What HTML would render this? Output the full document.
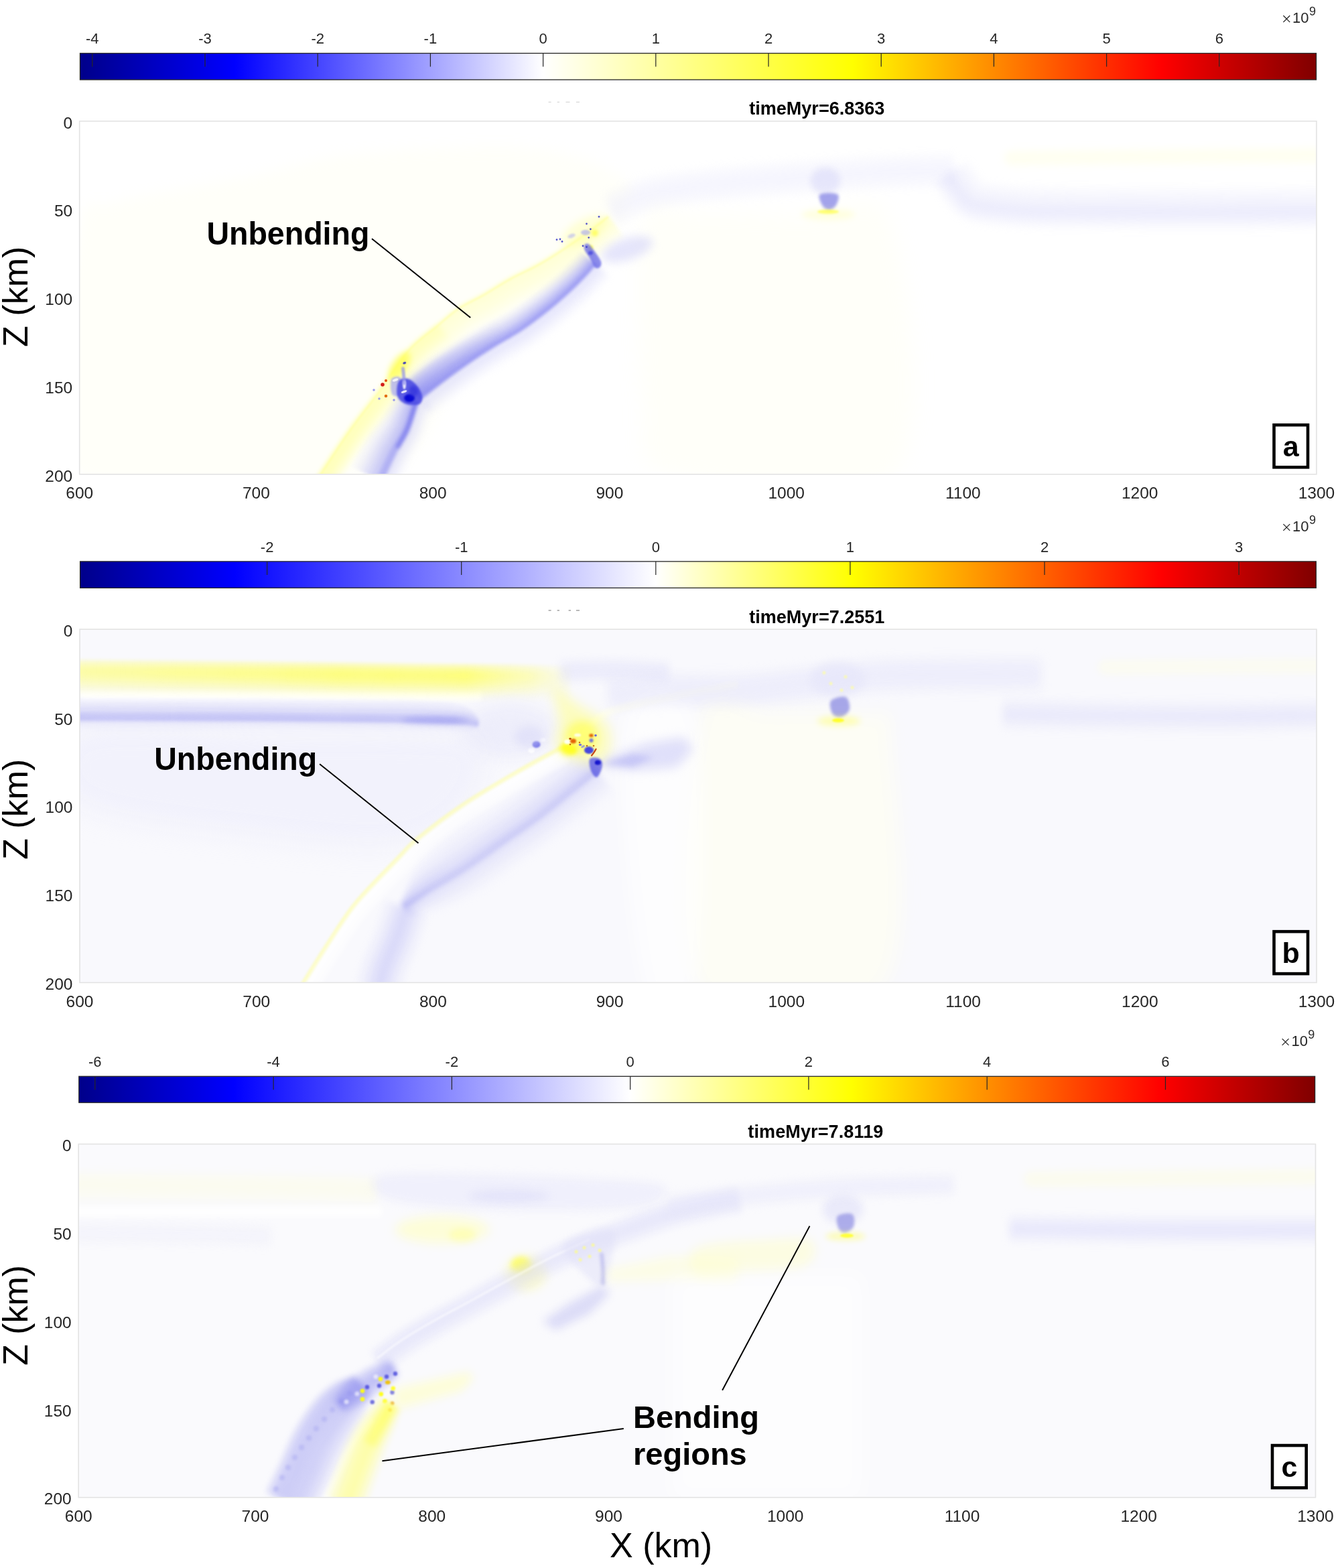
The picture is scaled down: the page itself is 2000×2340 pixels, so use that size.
<!DOCTYPE html>
<html><head><meta charset="utf-8"><title>figure</title>
<style>html,body{margin:0;padding:0;background:#fff;}body{width:2000px;height:2340px;overflow:hidden}svg{display:block}
text{font-family:"Liberation Sans", Arial, Helvetica, sans-serif}</style></head>
<body><svg width="2000" height="2340" viewBox="0 0 2000 2340">
<defs><linearGradient id="cm_a" gradientUnits="userSpaceOnUse" x1="119.5" y1="0" x2="1964.5" y2="0"><stop offset="0.0000" stop-color="#00008a"/><stop offset="0.1250" stop-color="#0000ff"/><stop offset="0.3746" stop-color="#ffffff"/><stop offset="0.6250" stop-color="#ffff00"/><stop offset="0.8750" stop-color="#ff0000"/><stop offset="1.0000" stop-color="#800000"/></linearGradient>
<clipPath id="clip_a"><rect x="118.7" y="180.8" width="1846.2" height="527"/></clipPath>
<linearGradient id="cm_b" gradientUnits="userSpaceOnUse" x1="119.6" y1="0" x2="1964.3" y2="0"><stop offset="0.0000" stop-color="#00008a"/><stop offset="0.1250" stop-color="#0000ff"/><stop offset="0.4658" stop-color="#ffffff"/><stop offset="0.6250" stop-color="#ffff00"/><stop offset="0.8750" stop-color="#ff0000"/><stop offset="1.0000" stop-color="#800000"/></linearGradient>
<clipPath id="clip_b"><rect x="119" y="939.1" width="1846" height="527.3"/></clipPath>
<linearGradient id="cm_c" gradientUnits="userSpaceOnUse" x1="117.8" y1="0" x2="1962.6" y2="0"><stop offset="0.0000" stop-color="#00008a"/><stop offset="0.1250" stop-color="#0000ff"/><stop offset="0.4461" stop-color="#ffffff"/><stop offset="0.6250" stop-color="#ffff00"/><stop offset="0.8750" stop-color="#ff0000"/><stop offset="1.0000" stop-color="#800000"/></linearGradient>
<clipPath id="clip_c"><rect x="117.2" y="1707.4" width="1846.3" height="527.3"/></clipPath>
<filter id="bl0_4" filterUnits="userSpaceOnUse" x="0" y="0" width="2000" height="2340" color-interpolation-filters="sRGB"><feGaussianBlur stdDeviation="0.4"/></filter>
<filter id="bl0_5" filterUnits="userSpaceOnUse" x="0" y="0" width="2000" height="2340" color-interpolation-filters="sRGB"><feGaussianBlur stdDeviation="0.5"/></filter>
<filter id="bl0_6" filterUnits="userSpaceOnUse" x="0" y="0" width="2000" height="2340" color-interpolation-filters="sRGB"><feGaussianBlur stdDeviation="0.6"/></filter>
<filter id="bl0_7" filterUnits="userSpaceOnUse" x="0" y="0" width="2000" height="2340" color-interpolation-filters="sRGB"><feGaussianBlur stdDeviation="0.7"/></filter>
<filter id="bl0_8" filterUnits="userSpaceOnUse" x="0" y="0" width="2000" height="2340" color-interpolation-filters="sRGB"><feGaussianBlur stdDeviation="0.8"/></filter>
<filter id="bl0_9" filterUnits="userSpaceOnUse" x="0" y="0" width="2000" height="2340" color-interpolation-filters="sRGB"><feGaussianBlur stdDeviation="0.9"/></filter>
<filter id="bl1" filterUnits="userSpaceOnUse" x="0" y="0" width="2000" height="2340" color-interpolation-filters="sRGB"><feGaussianBlur stdDeviation="1"/></filter>
<filter id="bl1_2" filterUnits="userSpaceOnUse" x="0" y="0" width="2000" height="2340" color-interpolation-filters="sRGB"><feGaussianBlur stdDeviation="1.2"/></filter>
<filter id="bl1_5" filterUnits="userSpaceOnUse" x="0" y="0" width="2000" height="2340" color-interpolation-filters="sRGB"><feGaussianBlur stdDeviation="1.5"/></filter>
<filter id="bl1_8" filterUnits="userSpaceOnUse" x="0" y="0" width="2000" height="2340" color-interpolation-filters="sRGB"><feGaussianBlur stdDeviation="1.8"/></filter>
<filter id="bl2" filterUnits="userSpaceOnUse" x="0" y="0" width="2000" height="2340" color-interpolation-filters="sRGB"><feGaussianBlur stdDeviation="2"/></filter>
<filter id="bl2_2" filterUnits="userSpaceOnUse" x="0" y="0" width="2000" height="2340" color-interpolation-filters="sRGB"><feGaussianBlur stdDeviation="2.2"/></filter>
<filter id="bl2_5" filterUnits="userSpaceOnUse" x="0" y="0" width="2000" height="2340" color-interpolation-filters="sRGB"><feGaussianBlur stdDeviation="2.5"/></filter>
<filter id="bl3" filterUnits="userSpaceOnUse" x="0" y="0" width="2000" height="2340" color-interpolation-filters="sRGB"><feGaussianBlur stdDeviation="3"/></filter>
<filter id="bl4" filterUnits="userSpaceOnUse" x="0" y="0" width="2000" height="2340" color-interpolation-filters="sRGB"><feGaussianBlur stdDeviation="4"/></filter>
<filter id="bl4_5" filterUnits="userSpaceOnUse" x="0" y="0" width="2000" height="2340" color-interpolation-filters="sRGB"><feGaussianBlur stdDeviation="4.5"/></filter>
<filter id="bl5" filterUnits="userSpaceOnUse" x="0" y="0" width="2000" height="2340" color-interpolation-filters="sRGB"><feGaussianBlur stdDeviation="5"/></filter>
<filter id="bl6" filterUnits="userSpaceOnUse" x="0" y="0" width="2000" height="2340" color-interpolation-filters="sRGB"><feGaussianBlur stdDeviation="6"/></filter>
<filter id="bl7" filterUnits="userSpaceOnUse" x="0" y="0" width="2000" height="2340" color-interpolation-filters="sRGB"><feGaussianBlur stdDeviation="7"/></filter>
<filter id="bl8" filterUnits="userSpaceOnUse" x="0" y="0" width="2000" height="2340" color-interpolation-filters="sRGB"><feGaussianBlur stdDeviation="8"/></filter>
<filter id="bl9" filterUnits="userSpaceOnUse" x="0" y="0" width="2000" height="2340" color-interpolation-filters="sRGB"><feGaussianBlur stdDeviation="9"/></filter>
<filter id="bl10" filterUnits="userSpaceOnUse" x="0" y="0" width="2000" height="2340" color-interpolation-filters="sRGB"><feGaussianBlur stdDeviation="10"/></filter>
<filter id="bl12" filterUnits="userSpaceOnUse" x="0" y="0" width="2000" height="2340" color-interpolation-filters="sRGB"><feGaussianBlur stdDeviation="12"/></filter>
<filter id="bl15" filterUnits="userSpaceOnUse" x="0" y="0" width="2000" height="2340" color-interpolation-filters="sRGB"><feGaussianBlur stdDeviation="15"/></filter>
<filter id="bl20" filterUnits="userSpaceOnUse" x="0" y="0" width="2000" height="2340" color-interpolation-filters="sRGB"><feGaussianBlur stdDeviation="20"/></filter>
<linearGradient id="g1" gradientUnits="userSpaceOnUse" x1="630" y1="590" x2="760" y2="505"><stop offset="0" stop-color="#5050ec" stop-opacity="0.45"/><stop offset="1" stop-color="#5050ec" stop-opacity="0"/></linearGradient>
<linearGradient id="g2" gradientUnits="userSpaceOnUse" x1="119" y1="0" x2="870" y2="0"><stop offset="0" stop-color="#ffff60" stop-opacity="0.72"/><stop offset="0.5" stop-color="#ffff50" stop-opacity="0.95"/><stop offset="0.77" stop-color="#ffff50" stop-opacity="1"/><stop offset="0.9" stop-color="#ffff70" stop-opacity="0.6"/><stop offset="1" stop-color="#ffffa0" stop-opacity="0"/></linearGradient></defs>
<rect x="119.5" y="79.5" width="1845" height="39.5" fill="url(#cm_a)" stroke="#262626" stroke-width="1.3"/>
<line x1="137.8" y1="79.5" x2="137.8" y2="99.5" stroke="#262626" stroke-width="1.2"/>
<text x="137.8" y="65.4" font-size="22" text-anchor="middle" fill="#262626">-4</text>
<line x1="306" y1="79.5" x2="306" y2="99.5" stroke="#262626" stroke-width="1.2"/>
<text x="306" y="65.4" font-size="22" text-anchor="middle" fill="#262626">-3</text>
<line x1="474.2" y1="79.5" x2="474.2" y2="99.5" stroke="#262626" stroke-width="1.2"/>
<text x="474.2" y="65.4" font-size="22" text-anchor="middle" fill="#262626">-2</text>
<line x1="642.4" y1="79.5" x2="642.4" y2="99.5" stroke="#262626" stroke-width="1.2"/>
<text x="642.4" y="65.4" font-size="22" text-anchor="middle" fill="#262626">-1</text>
<line x1="810.6" y1="79.5" x2="810.6" y2="99.5" stroke="#262626" stroke-width="1.2"/>
<text x="810.6" y="65.4" font-size="22" text-anchor="middle" fill="#262626">0</text>
<line x1="978.8" y1="79.5" x2="978.8" y2="99.5" stroke="#262626" stroke-width="1.2"/>
<text x="978.8" y="65.4" font-size="22" text-anchor="middle" fill="#262626">1</text>
<line x1="1147" y1="79.5" x2="1147" y2="99.5" stroke="#262626" stroke-width="1.2"/>
<text x="1147" y="65.4" font-size="22" text-anchor="middle" fill="#262626">2</text>
<line x1="1315.2" y1="79.5" x2="1315.2" y2="99.5" stroke="#262626" stroke-width="1.2"/>
<text x="1315.2" y="65.4" font-size="22" text-anchor="middle" fill="#262626">3</text>
<line x1="1483.4" y1="79.5" x2="1483.4" y2="99.5" stroke="#262626" stroke-width="1.2"/>
<text x="1483.4" y="65.4" font-size="22" text-anchor="middle" fill="#262626">4</text>
<line x1="1651.6" y1="79.5" x2="1651.6" y2="99.5" stroke="#262626" stroke-width="1.2"/>
<text x="1651.6" y="65.4" font-size="22" text-anchor="middle" fill="#262626">5</text>
<line x1="1819.8" y1="79.5" x2="1819.8" y2="99.5" stroke="#262626" stroke-width="1.2"/>
<text x="1819.8" y="65.4" font-size="22" text-anchor="middle" fill="#262626">6</text>
<path d="M1915.4 23.3L1925.2 33.1M1925.2 23.3L1915.4 33.1" stroke="#262626" stroke-width="1.3" fill="none"/>
<text x="1953.6" y="33.9" font-size="22" fill="#262626" text-anchor="end">10</text>
<text x="1953.9" y="23.2" font-size="18" fill="#262626">9</text>
<g clip-path="url(#clip_a)">
<rect x="118.7" y="180.8" width="1846.2" height="527" fill="#ffffff"/>
<path d="M119 345 C127.5 277.7 143.2 314.8 170 304 C196.8 293.2 242.7 287.5 280 280 C317.3 272.5 357.3 266.7 394 259 C430.7 251.3 457.3 240.2 500 234 C542.7 227.8 600 224 650 222 C700 220 758.3 217.3 800 222 C841.7 226.7 876.7 238.7 900 250 C923.3 261.3 943.3 265 940 290 C936.7 315 920 358.3 880 400 C840 441.7 753.3 488.7 700 540 C646.7 591.3 656.8 680 560 708 C463.2 736 192.5 768.5 119 708 C45.5 647.5 110.5 412.3 119 345Z" fill="#ffffe0" fill-opacity="0.18" filter="url(#bl10)"/>
<path d="M960 330 C973.7 283 1002 319.3 1042 318 C1082 316.7 1152 320 1200 322 C1248 324 1307.5 265.7 1330 330 C1352.5 394.3 1390 645 1335 708 C1280 771 1062.5 726 1000 708 C937.5 690 966.7 663 960 600 C953.3 537 946.3 377 960 330Z" fill="#ffffe0" fill-opacity="0.2" filter="url(#bl15)"/>
<g filter="url(#bl6)"><path d="M906.9 293.7 C914.8 290.2 934.3 278.5 954.5 272.8 C974.8 267 996.2 263.3 1028.5 259.2 C1060.8 255 1103.4 251.6 1148.4 248.1 C1193.5 244.5 1253.8 240.4 1299 238 C1344.1 235.7 1399.3 234.7 1419.3 234" fill="none" stroke="#dcdcfa" stroke-width="10.2" stroke-opacity="0.15" stroke-linecap="round" stroke-linejoin="round"/><path d="M910.9 302.9 C918.7 299.4 937.5 288 957.3 282.4 C977.1 276.8 997.8 273.1 1029.7 269.1 C1061.7 265 1104.3 261.5 1149.2 258 C1194.2 254.5 1254.4 250.4 1299.5 248 C1344.6 245.7 1399.6 244.7 1419.7 244" fill="none" stroke="#dcdcfa" stroke-width="10.2" stroke-opacity="0.24" stroke-linecap="round" stroke-linejoin="round"/><path d="M915 312 C922.5 308.7 940.7 297.5 960 292 C979.3 286.5 999.3 283 1031 279 C1062.7 275 1105.2 271.5 1150 268 C1194.8 264.5 1255 260.3 1300 258 C1345 255.7 1400 254.7 1420 254" fill="none" stroke="#dcdcfa" stroke-width="10.2" stroke-opacity="0.28" stroke-linecap="round" stroke-linejoin="round"/><path d="M919.1 321.1 C926.3 317.9 943.9 307 962.7 301.6 C981.6 296.2 1000.9 292.9 1032.3 288.9 C1063.6 285 1106.1 281.5 1150.8 278 C1195.5 274.5 1255.6 270.3 1300.5 268 C1345.4 265.7 1400.4 264.7 1420.3 264" fill="none" stroke="#dcdcfa" stroke-width="10.2" stroke-opacity="0.24" stroke-linecap="round" stroke-linejoin="round"/><path d="M923.1 330.3 C930.2 327.1 947.1 316.5 965.5 311.2 C983.9 306 1002.5 302.7 1033.5 298.8 C1064.5 295 1107 291.4 1151.6 287.9 C1196.1 284.5 1256.2 280.3 1301 278 C1345.9 275.6 1400.7 274.7 1420.7 274" fill="none" stroke="#dcdcfa" stroke-width="10.2" stroke-opacity="0.15" stroke-linecap="round" stroke-linejoin="round"/></g>
<g filter="url(#bl6)"><path d="M1441.8 247.8 C1443.9 251.1 1451.1 263 1454.6 267.9 C1458 272.8 1451.1 274.4 1462.3 277.1 C1473.5 279.8 1498.8 282.6 1521.8 284.1 C1544.8 285.6 1553.9 285.5 1600.3 286 C1646.6 286.5 1737.6 287 1800 287 C1862.4 287 1945.7 286.2 1974.9 286" fill="none" stroke="#d4d4f8" stroke-width="12.2" stroke-opacity="0.15" stroke-linecap="round" stroke-linejoin="round"/><path d="M1430.9 254.9 C1433.2 258.5 1440.2 270.7 1444.8 276.4 C1449.4 282.2 1446 286.1 1458.7 289.5 C1471.4 293 1497.3 295.5 1520.9 297 C1544.5 298.6 1553.6 298.5 1600.1 299 C1646.7 299.5 1737.5 300 1800 300 C1862.5 300 1945.8 299.2 1974.9 299" fill="none" stroke="#d4d4f8" stroke-width="12.2" stroke-opacity="0.28" stroke-linecap="round" stroke-linejoin="round"/><path d="M1420 262 C1422.5 265.8 1429.2 278.3 1435 285 C1440.8 291.7 1440.8 297.8 1455 302 C1469.2 306.2 1495.8 308.3 1520 310 C1544.2 311.7 1553.3 311.5 1600 312 C1646.7 312.5 1737.5 313 1800 313 C1862.5 313 1945.8 312.2 1975 312" fill="none" stroke="#d4d4f8" stroke-width="12.2" stroke-opacity="0.42" stroke-linecap="round" stroke-linejoin="round"/><path d="M1410.8 268 C1413.4 272 1419.9 284.8 1426.7 292.2 C1433.6 299.7 1436.5 307.8 1451.9 312.6 C1467.3 317.3 1494.6 319.2 1519.2 321 C1543.9 322.7 1553.1 322.5 1599.9 323 C1646.7 323.5 1737.5 324 1800 324 C1862.5 324 1945.9 323.2 1975.1 323" fill="none" stroke="#d4d4f8" stroke-width="12.2" stroke-opacity="0.34" stroke-linecap="round" stroke-linejoin="round"/><path d="M1401.6 274 C1404.4 278.3 1410.6 291.3 1418.4 299.5 C1426.3 307.7 1432.1 317.7 1448.8 323.1 C1465.5 328.5 1493.3 330.1 1518.5 331.9 C1543.6 333.8 1552.8 333.5 1599.8 334 C1646.7 334.5 1737.4 335 1800 335 C1862.6 335 1945.9 334.2 1975.1 334" fill="none" stroke="#d4d4f8" stroke-width="12.2" stroke-opacity="0.16" stroke-linecap="round" stroke-linejoin="round"/></g>
<path d="M1510 236 C1541.7 235.7 1622.5 234.7 1700 234 C1777.5 233.3 1929.2 232.3 1975 232" fill="none" stroke="#ffffc8" stroke-width="22" stroke-opacity="0.25" stroke-linecap="round" stroke-linejoin="round" filter="url(#bl6)"/>
<g filter="url(#bl2_5)"><path d="M471.2 716.8 C479.5 704.3 505.8 663.9 521.3 641.9 C536.9 620 550 604.9 564.5 585.1 C579.1 565.4 594 539.8 608.5 523.3 C623 506.9 638.7 497.1 651.3 486.5 C663.9 475.9 672.5 467.5 684.1 459.7 C695.7 451.9 708.2 447.1 721 439.7 C733.8 432.4 747.6 423.1 761 415.8 C774.3 408.4 789.3 402.1 801 395.8 C812.6 389.4 818.6 385.9 831.1 377.7 C843.6 369.5 863.6 355.6 876.2 346.6 C888.7 337.6 901.2 327.4 906.2 323.6" fill="none" stroke="#ffffbc" stroke-width="5" stroke-opacity="0.62" stroke-linecap="round" stroke-linejoin="round"/><path d="M474.2 718.8 C482.6 706.4 508.9 666 524.6 644.2 C540.3 622.4 553.8 607.5 568.4 587.9 C583 568.3 597.9 542.9 612.3 526.6 C626.6 510.4 642.1 500.8 654.5 490.4 C666.9 479.9 675.4 471.5 686.9 463.8 C698.4 456.1 710.7 451.4 723.5 444.1 C736.2 436.8 750.1 427.5 763.4 420.1 C776.7 412.8 791.6 406.5 803.3 400.2 C815.1 393.8 821.2 390.1 833.8 381.9 C846.5 373.6 866.5 359.7 879.1 350.7 C891.7 341.6 904.2 331.4 909.3 327.6" fill="none" stroke="#ffffbc" stroke-width="5" stroke-opacity="0.57" stroke-linecap="round" stroke-linejoin="round"/><path d="M477.2 720.8 C485.6 708.4 512 668.2 527.8 646.5 C543.7 624.9 557.5 610.2 572.2 590.7 C586.9 571.3 601.8 546 616 529.9 C630.3 513.8 645.5 504.5 657.7 494.2 C670 483.9 678.3 475.6 689.7 468 C701.1 460.3 713.3 455.7 726 448.4 C738.6 441.2 752.5 431.8 765.8 424.5 C779.1 417.2 793.9 411 805.7 404.5 C817.5 398.1 823.8 394.3 836.6 386 C849.3 377.7 869.4 363.8 882 354.7 C894.6 345.7 907.3 335.4 912.3 331.5" fill="none" stroke="#ffffbc" stroke-width="5" stroke-opacity="0.52" stroke-linecap="round" stroke-linejoin="round"/><path d="M480.2 722.8 C488.7 710.5 515.1 670.4 531.1 648.8 C547.1 627.3 561.3 612.8 576 593.5 C590.8 574.3 605.6 549.1 619.8 533.2 C633.9 517.3 648.8 508.2 661 498 C673.1 487.8 681.2 479.7 692.5 472.1 C703.7 464.6 715.8 460 728.4 452.8 C741.1 445.6 754.9 436.2 768.2 428.9 C781.5 421.6 796.3 415.4 808.1 408.9 C820 402.5 826.5 398.6 839.3 390.2 C852.1 381.9 872.3 367.9 884.9 358.8 C897.6 349.7 910.3 339.4 915.3 335.5" fill="none" stroke="#ffffbc" stroke-width="5" stroke-opacity="0.47" stroke-linecap="round" stroke-linejoin="round"/><path d="M483.2 724.8 C491.7 712.5 518.3 672.5 534.4 651.1 C550.5 629.7 565 615.4 579.9 596.3 C594.7 577.2 609.5 552.3 623.5 536.5 C637.6 520.8 652.2 511.9 664.2 501.8 C676.1 491.8 684.1 483.7 695.3 476.3 C706.4 468.8 718.4 464.3 730.9 457.1 C743.5 449.9 757.3 440.6 770.6 433.3 C783.9 426 798.6 419.8 810.5 413.3 C822.4 406.9 829.1 402.8 842 394.4 C854.9 386 875.1 372 887.9 362.9 C900.6 353.7 913.3 343.4 918.4 339.5" fill="none" stroke="#ffffbc" stroke-width="5" stroke-opacity="0.42" stroke-linecap="round" stroke-linejoin="round"/><path d="M486.2 726.8 C494.8 714.6 521.4 674.7 537.7 653.4 C553.9 632.2 568.8 618.1 583.7 599.1 C598.6 580.2 613.3 555.4 627.3 539.8 C641.2 524.2 655.6 515.6 667.4 505.7 C679.2 495.8 687.1 487.8 698.1 480.4 C709.1 473 720.9 468.6 733.4 461.4 C745.9 454.3 759.8 444.9 773 437.7 C786.3 430.4 800.9 424.2 812.9 417.7 C824.8 411.2 831.8 407.1 844.8 398.6 C857.8 390.1 878 376.1 890.8 366.9 C903.6 357.7 916.3 347.3 921.4 343.4" fill="none" stroke="#ffffbc" stroke-width="5" stroke-opacity="0.35" stroke-linecap="round" stroke-linejoin="round"/><path d="M489.2 728.8 C497.8 716.6 524.5 676.9 540.9 655.7 C557.3 634.6 572.5 620.7 587.5 601.9 C602.6 583.2 617.2 558.5 631 543.1 C644.9 527.7 659 519.2 670.6 509.5 C682.2 499.7 690 491.8 700.8 484.6 C711.7 477.3 723.4 472.9 735.9 465.8 C748.3 458.7 762.2 449.3 775.4 442 C788.7 434.8 803.3 428.7 815.3 422.1 C827.3 415.6 834.4 411.3 847.5 402.8 C860.6 394.3 880.9 380.2 893.7 371 C906.5 361.7 919.3 351.3 924.5 347.4" fill="none" stroke="#ffffbc" stroke-width="5" stroke-opacity="0.26" stroke-linecap="round" stroke-linejoin="round"/><path d="M492.2 730.8 C500.8 718.7 527.7 679.1 544.2 658 C560.7 637 576.3 623.3 591.4 604.7 C606.5 586.1 621.1 561.7 634.8 546.4 C648.5 531.2 662.4 522.9 673.8 513.3 C685.3 503.7 692.9 495.9 703.6 488.7 C714.4 481.5 726 477.2 738.4 470.1 C750.7 463.1 764.6 453.7 777.8 446.4 C791 439.2 805.6 433.1 817.7 426.5 C829.7 419.9 837.1 415.6 850.2 407 C863.4 398.4 883.7 384.3 896.6 375 C909.5 365.8 922.4 355.3 927.5 351.4" fill="none" stroke="#ffffbc" stroke-width="5" stroke-opacity="0.16" stroke-linecap="round" stroke-linejoin="round"/><path d="M495.2 732.8 C503.9 720.7 530.8 681.2 547.5 660.4 C564.1 639.5 580 626 595.2 607.5 C610.4 589.1 624.9 564.8 638.5 549.7 C652.2 534.7 665.7 526.6 677.1 517.1 C688.4 507.7 695.8 500 706.4 492.9 C717 485.8 728.5 481.5 740.8 474.5 C753.1 467.5 767 458.1 780.2 450.8 C793.4 443.5 807.9 437.5 820 430.9 C832.2 424.3 839.7 419.8 853 411.2 C866.2 402.5 886.6 388.4 899.5 379.1 C912.5 369.8 925.4 359.3 930.6 355.3" fill="none" stroke="#ffffbc" stroke-width="5" stroke-opacity="0.06" stroke-linecap="round" stroke-linejoin="round"/></g>
<g filter="url(#bl4)"><path d="M474.2 718.8 C482.5 706.3 508.6 665.9 524.1 643.9 C539.6 621.9 552.6 606.7 567 587 C581.5 567.2 596.4 541.7 610.8 525.3 C625.1 508.9 646.2 494.9 653.3 488.8" fill="none" stroke="#ffff80" stroke-width="7.1" stroke-opacity="0.3" stroke-linecap="round" stroke-linejoin="round"/><path d="M480 722.7 C488.3 710.2 514.4 669.8 529.8 647.9 C545.3 626 558.3 610.7 572.7 591.1 C587.1 571.4 601.8 546.1 616 529.9 C630.2 513.8 650.9 500.1 657.8 494.1" fill="none" stroke="#ffff80" stroke-width="7.1" stroke-opacity="0.25" stroke-linecap="round" stroke-linejoin="round"/><path d="M485.8 726.5 C494.1 714.1 520.1 673.8 535.5 651.9 C551 630.1 564 614.8 578.3 595.2 C592.6 575.6 607.3 550.5 621.3 534.5 C635.3 518.6 655.5 505.3 662.4 499.4" fill="none" stroke="#ffff80" stroke-width="7.1" stroke-opacity="0.2" stroke-linecap="round" stroke-linejoin="round"/><path d="M491.6 730.4 C499.9 718 525.9 677.8 541.3 656 C556.6 634.1 569.8 618.8 584 599.3 C598.2 579.9 612.7 554.9 626.5 539.2 C640.4 523.4 660.2 510.5 667 504.7" fill="none" stroke="#ffff80" stroke-width="7.1" stroke-opacity="0.08" stroke-linecap="round" stroke-linejoin="round"/></g>
<g filter="url(#bl1_2)"><path d="M472.5 717.7 C480.8 705.2 507 664.7 522.5 642.7 C537.9 620.7 551 605.6 565.4 585.8 C579.9 566 594.8 540.4 609.3 524 C623.7 507.6 639.4 497.9 651.9 487.3 C664.5 476.7 673.1 468.3 684.7 460.5 C696.3 452.7 708.7 447.9 721.5 440.6 C734.3 433.3 748.1 424 761.4 416.6 C774.8 409.3 789.7 403 801.4 396.6 C813.1 390.3 819.1 386.7 831.6 378.5 C844.2 370.3 864.2 356.5 876.8 347.4 C889.3 338.4 901.8 328.2 906.8 324.4" fill="none" stroke="#ffff90" stroke-width="3" stroke-opacity="0.4" stroke-linecap="round" stroke-linejoin="round"/></g>
<g filter="url(#bl2)"><path d="M603.4 564.4 C609.5 559.7 627.4 544.8 640 536 C652.6 527.2 665.6 519.8 679.2 511.6 C692.9 503.5 708.2 494.9 722 487.2 C735.8 479.5 749 473.7 762.1 465.5 C775.2 457.3 789 446.9 800.7 438 C812.3 429.1 823.2 419.9 831.9 412.3 C840.6 404.6 847.3 398 853.1 392.2 C858.9 386.4 864.6 380 866.9 377.6" fill="none" stroke="#8080f0" stroke-width="4.3" stroke-opacity="0.05" stroke-linecap="round" stroke-linejoin="round"/><path d="M606.5 568.4 C612.6 563.6 630.4 548.8 643 540 C655.6 531.2 668.3 523.6 681.8 515.4 C695.4 507.2 710.5 498.5 724.2 490.8 C738 483 751.2 477.1 764.3 468.8 C777.5 460.5 791.4 450 803.1 441 C814.8 432 825.6 422.7 834.4 415 C843.2 407.3 849.8 400.5 855.7 394.7 C861.6 388.8 867.3 382.3 869.6 379.9" fill="none" stroke="#8080f0" stroke-width="4.3" stroke-opacity="0.1" stroke-linecap="round" stroke-linejoin="round"/><path d="M609.6 572.3 C615.7 567.6 633.5 552.8 646 544 C658.5 535.2 671 527.5 684.4 519.2 C697.8 511 712.8 502.2 726.5 494.4 C740.2 486.5 753.4 480.5 766.6 472.1 C779.7 463.7 793.8 453.1 805.5 444 C817.2 434.9 828.1 425.5 836.9 417.7 C845.7 409.9 852.4 403.1 858.3 397.1 C864.2 391.2 869.9 384.7 872.2 382.2" fill="none" stroke="#8080f0" stroke-width="4.3" stroke-opacity="0.17" stroke-linecap="round" stroke-linejoin="round"/><path d="M612.7 576.3 C618.7 571.6 636.6 556.9 649 548 C661.4 539.1 673.7 531.4 687 523 C700.3 514.7 715.1 505.9 728.7 498 C742.4 490 755.6 483.9 768.8 475.4 C782 466.9 796.2 456.2 807.9 447 C819.7 437.8 830.6 428.3 839.4 420.4 C848.3 412.5 855 405.6 860.9 399.6 C866.8 393.6 872.5 387 874.8 384.5" fill="none" stroke="#8080f0" stroke-width="4.3" stroke-opacity="0.25" stroke-linecap="round" stroke-linejoin="round"/><path d="M615.7 580.2 C621.8 575.5 639.7 560.9 652 552 C664.3 543.1 676.4 535.2 689.6 526.8 C702.8 518.4 717.4 509.6 731 501.6 C744.6 493.6 757.8 487.3 771 478.7 C784.3 470.1 798.5 459.3 810.3 450 C822.2 440.7 833.1 431.1 841.9 423.1 C850.8 415.2 857.6 408.2 863.5 402.1 C869.5 396 875.1 389.3 877.5 386.8" fill="none" stroke="#8080f0" stroke-width="4.3" stroke-opacity="0.34" stroke-linecap="round" stroke-linejoin="round"/><path d="M618.8 584.2 C624.8 579.5 642.8 564.9 655 556 C667.2 547.1 679.2 539.1 692.2 530.6 C705.2 522.1 719.7 513.3 733.2 505.2 C746.8 497.1 760 490.8 773.3 482.1 C786.5 473.4 800.9 462.4 812.8 453 C824.6 443.6 835.6 433.9 844.5 425.9 C853.4 417.8 860.2 410.7 866.2 404.6 C872.1 398.4 877.8 391.7 880.1 389.1" fill="none" stroke="#8080f0" stroke-width="4.3" stroke-opacity="0.44" stroke-linecap="round" stroke-linejoin="round"/><path d="M621.9 588.1 C627.9 583.4 645.8 568.9 658 560 C670.2 551.1 681.9 542.9 694.8 534.4 C707.7 525.9 722 517 735.5 508.8 C748.9 500.6 762.2 494.2 775.5 485.4 C788.8 476.6 803.3 465.5 815.2 456 C827.1 446.5 838 436.7 847 428.6 C855.9 420.4 862.8 413.2 868.8 407 C874.7 400.9 880.4 394 882.7 391.4" fill="none" stroke="#8080f0" stroke-width="4.3" stroke-opacity="0.55" stroke-linecap="round" stroke-linejoin="round"/><path d="M624.9 592.1 C630.9 587.4 648.9 573 661 564 C673.1 555 684.6 546.8 697.4 538.2 C710.2 529.6 724.4 520.6 737.7 512.4 C751.1 504.1 764.5 497.6 777.8 488.7 C791.1 479.8 805.6 468.6 817.6 459 C829.5 449.4 840.5 439.5 849.5 431.3 C858.5 423 865.4 415.8 871.4 409.5 C877.4 403.3 883 396.3 885.4 393.7" fill="none" stroke="#8080f0" stroke-width="4.3" stroke-opacity="0.66" stroke-linecap="round" stroke-linejoin="round"/><path d="M627.4 595.2 C633.4 590.5 651.4 576.2 663.4 567.2 C675.4 558.2 686.8 549.9 699.5 541.2 C712.2 532.6 726.2 523.6 739.5 515.3 C752.9 507 766.2 500.3 779.6 491.3 C792.9 482.4 807.5 471 819.5 461.4 C831.5 451.8 842.5 441.8 851.5 433.5 C860.5 425.1 867.5 417.8 873.5 411.5 C879.5 405.2 885.1 398.2 887.5 395.5" fill="none" stroke="#8080f0" stroke-width="4.3" stroke-opacity="0.72" stroke-linecap="round" stroke-linejoin="round"/></g>
<g filter="url(#bl3)"><path d="M609.6 572.3 C615.7 567.6 633.5 552.8 646 544 C658.5 535.2 671 527.5 684.4 519.2 C697.8 511 712.8 502.2 726.5 494.4 C740.2 486.5 753.3 480.6 766.6 472.1 C779.8 463.6 799.5 448.3 806.1 443.5" fill="none" stroke="url(#g1)" stroke-width="7.5" stroke-opacity="0.5" stroke-linecap="round" stroke-linejoin="round"/><path d="M614.5 578.6 C620.5 573.9 638.5 559.3 650.8 550.4 C663.1 541.5 675.4 533.7 688.6 525.3 C701.8 516.9 716.5 508.1 730.1 500.1 C743.7 492.2 756.9 486 770.2 477.4 C783.4 468.8 803.2 453.3 809.8 448.4" fill="none" stroke="url(#g1)" stroke-width="7.5" stroke-opacity="0.7" stroke-linecap="round" stroke-linejoin="round"/><path d="M619.4 584.9 C625.4 580.3 643.4 565.7 655.6 556.8 C667.8 547.9 679.7 539.9 692.7 531.4 C705.7 522.9 720.2 514 733.7 505.9 C747.2 497.8 760.4 491.5 773.7 482.7 C787 474 806.9 458.3 813.5 453.4" fill="none" stroke="url(#g1)" stroke-width="7.5" stroke-opacity="0.8" stroke-linecap="round" stroke-linejoin="round"/><path d="M624.3 591.3 C630.3 586.6 648.3 572.2 660.4 563.2 C672.5 554.2 684.1 546 696.9 537.4 C709.7 528.9 723.9 519.9 737.3 511.7 C750.7 503.4 764 496.9 777.3 488 C790.6 479.1 810.6 463.3 817.2 458.3" fill="none" stroke="url(#g1)" stroke-width="7.5" stroke-opacity="0.8" stroke-linecap="round" stroke-linejoin="round"/></g>
<g filter="url(#bl4)"><path d="M629.8 598.4 C635.8 593.7 653.8 579.4 665.8 570.4 C677.8 561.4 689.1 553.1 701.7 544.5 C714.3 535.8 728.3 526.9 741.6 518.5 C754.9 510.2 768.3 503.5 781.7 494.5 C795.1 485.5 809.8 474.1 821.9 464.3 C833.9 454.6 845 444.6 854 436.2 C863.1 427.8 870.1 420.4 876.2 414.1 C882.2 407.7 887.9 400.7 890.3 398" fill="none" stroke="#c4c4f8" stroke-width="6.1" stroke-opacity="0.45" stroke-linecap="round" stroke-linejoin="round"/><path d="M633.5 603.1 C639.5 598.5 657.5 584.1 669.4 575.2 C681.3 566.3 692.5 558 705.1 549.4 C717.6 540.8 731.4 532 744.8 523.6 C758.1 515.3 771.6 508.6 785 499.5 C798.5 490.4 813.5 478.8 825.6 469 C837.8 459.2 849 449.1 858.1 440.6 C867.3 432.1 874.4 424.6 880.5 418.2 C886.6 411.7 892.4 404.6 894.8 401.9" fill="none" stroke="#c4c4f8" stroke-width="6.1" stroke-opacity="0.35" stroke-linecap="round" stroke-linejoin="round"/><path d="M637.2 607.8 C643.2 603.2 661.1 588.9 673 580 C684.9 571.1 696 562.9 708.5 554.4 C721 545.8 734.6 537 747.9 528.7 C761.3 520.4 774.8 513.6 788.4 504.4 C802 495.3 817.1 483.6 829.4 473.7 C841.7 463.8 852.9 453.6 862.2 445 C871.4 436.4 878.7 428.8 884.9 422.3 C891.1 415.8 896.9 408.6 899.3 405.9" fill="none" stroke="#c4c4f8" stroke-width="6.1" stroke-opacity="0.25" stroke-linecap="round" stroke-linejoin="round"/><path d="M640.9 612.6 C646.8 607.9 664.8 593.7 676.6 584.8 C688.4 575.9 699.4 567.8 711.9 559.3 C724.3 550.8 737.8 542.1 751.1 533.8 C764.4 525.5 778.1 518.6 791.7 509.4 C805.4 500.2 820.8 488.4 833.2 478.4 C845.6 468.4 856.9 458.1 866.3 449.4 C875.6 440.8 883 433 889.2 426.4 C895.5 419.8 901.4 412.6 903.8 409.8" fill="none" stroke="#c4c4f8" stroke-width="6.1" stroke-opacity="0.15" stroke-linecap="round" stroke-linejoin="round"/><path d="M644.6 617.3 C650.5 612.7 668.4 598.4 680.2 589.6 C692 580.8 702.9 572.7 715.2 564.3 C727.6 555.8 741 547.2 754.3 538.9 C767.6 530.6 781.3 523.7 795.1 514.4 C808.9 505.1 824.4 493.1 836.9 483 C849.5 472.9 860.9 462.6 870.3 453.8 C879.8 445.1 887.3 437.2 893.6 430.6 C899.9 423.9 905.9 416.6 908.3 413.8" fill="none" stroke="#c4c4f8" stroke-width="6.1" stroke-opacity="0.06" stroke-linecap="round" stroke-linejoin="round"/></g>
<g filter="url(#bl2_5)"><path d="M528.3 696.1 C532 689.1 543.6 665.5 550.9 653.9 C558.1 642.3 564.7 636.9 571.7 626.3 C578.6 615.7 589.3 596.3 592.8 590.3" fill="none" stroke="#8888f0" stroke-width="5.4" stroke-opacity="0.05" stroke-linecap="round" stroke-linejoin="round"/><path d="M534 698.8 C537.7 691.8 549.1 668.4 556.2 656.6 C563.3 644.9 569.8 639.3 576.6 628.4 C583.4 617.6 593.4 597.7 596.8 591.6" fill="none" stroke="#8888f0" stroke-width="5.4" stroke-opacity="0.1" stroke-linecap="round" stroke-linejoin="round"/><path d="M539.7 701.6 C543.3 694.5 554.6 671.2 561.5 659.4 C568.5 647.6 575 641.6 581.6 630.6 C588.1 619.5 597.6 599.2 600.7 592.9" fill="none" stroke="#8888f0" stroke-width="5.4" stroke-opacity="0.18" stroke-linecap="round" stroke-linejoin="round"/><path d="M545.4 704.3 C548.9 697.2 560 674 566.9 662.1 C573.7 650.2 580.2 644 586.5 632.7 C592.8 621.4 601.7 600.7 604.7 594.2" fill="none" stroke="#8888f0" stroke-width="5.4" stroke-opacity="0.27" stroke-linecap="round" stroke-linejoin="round"/><path d="M551 707 C554.6 700 565.5 676.9 572.2 664.9 C578.9 652.8 585.4 646.4 591.5 634.9 C597.6 623.3 605.8 602.1 608.7 595.6" fill="none" stroke="#8888f0" stroke-width="5.4" stroke-opacity="0.36" stroke-linecap="round" stroke-linejoin="round"/><path d="M556.7 709.7 C560.2 702.7 570.9 679.7 577.5 667.6 C584.2 655.5 590.6 648.8 596.4 637 C602.3 625.2 610 603.6 612.7 596.9" fill="none" stroke="#8888f0" stroke-width="5.4" stroke-opacity="0.45" stroke-linecap="round" stroke-linejoin="round"/><path d="M562.4 712.4 C565.8 705.4 576.4 682.6 582.9 670.3 C589.4 658.1 595.8 651.2 601.4 639.1 C607 627.1 614.1 605 616.7 598.2" fill="none" stroke="#8888f0" stroke-width="5.4" stroke-opacity="0.55" stroke-linecap="round" stroke-linejoin="round"/><path d="M567.2 714.6 C570.5 707.6 580.9 684.9 587.3 672.6 C593.7 660.3 600.1 653.1 605.5 640.9 C611 628.7 617.6 606.3 620 599.3" fill="none" stroke="#8888f0" stroke-width="5.4" stroke-opacity="0.62" stroke-linecap="round" stroke-linejoin="round"/><path d="M570.9 716.5 C574.3 709.5 584.6 686.8 590.9 674.5 C597.2 662.1 603.5 654.7 608.8 642.4 C614.1 630 620.4 607.2 622.7 600.2" fill="none" stroke="#8888f0" stroke-width="5.4" stroke-opacity="0.6" stroke-linecap="round" stroke-linejoin="round"/></g>
<g filter="url(#bl4)"><path d="M574.5 718.1 C577.8 711.2 588.1 688.6 594.4 676.3 C600.8 663.9 607.2 656.4 612.6 644 C618 631.5 624.4 608.6 626.7 601.6" fill="none" stroke="#b8b8f6" stroke-width="6.1" stroke-opacity="0.4" stroke-linecap="round" stroke-linejoin="round"/><path d="M579.9 720.7 C583.2 713.8 593.4 691.4 599.8 679 C606.1 666.6 612.7 659 618.1 646.4 C623.5 633.8 630 610.6 632.4 603.5" fill="none" stroke="#b8b8f6" stroke-width="6.1" stroke-opacity="0.28" stroke-linecap="round" stroke-linejoin="round"/><path d="M585.3 723.3 C588.6 716.4 598.7 694.2 605.1 681.8 C611.5 669.3 618.1 661.5 623.6 648.7 C629.1 636 635.7 612.6 638.1 605.4" fill="none" stroke="#b8b8f6" stroke-width="6.1" stroke-opacity="0.16" stroke-linecap="round" stroke-linejoin="round"/><path d="M590.8 725.9 C594 719 604.1 697 610.5 684.5 C616.9 672 623.6 664 629.1 651.1 C634.7 638.3 641.4 614.6 643.8 607.3" fill="none" stroke="#b8b8f6" stroke-width="6.1" stroke-opacity="0.06" stroke-linecap="round" stroke-linejoin="round"/></g>
<path d="M620 604 C618 610 612.3 629.7 608 640 C603.7 650.3 596.3 661.7 594 666" fill="none" stroke="#4a4ae8" stroke-width="6" stroke-opacity="0.4" stroke-linecap="round" stroke-linejoin="round" filter="url(#bl2_5)"/>
<ellipse cx="596" cy="546" rx="11" ry="24" fill="#ffff30" fill-opacity="0.55" transform="rotate(35 596 546)" filter="url(#bl4)"/>
<path d="M584 566 C586 561.8 594.3 561 597 563 C599.7 565 600.2 573.5 600 578 C599.8 582.5 598.5 588.3 596 590 C593.5 591.7 587 592 585 588 C583 584 582 570.2 584 566Z" fill="#b0b0f0" fill-opacity="0.8" filter="url(#bl1_5)"/>
<path d="M595 569 C597.5 564.7 603.7 564.2 608 565 C612.3 565.8 617.3 569.8 621 574 C624.7 578.2 629.2 585.2 630 590 C630.8 594.8 630 600.8 626 603 C622 605.2 611.5 605 606 603 C600.5 601 594.8 596.7 593 591 C591.2 585.3 592.5 573.3 595 569Z" fill="#4848e2" fill-opacity="0.88" filter="url(#bl1_8)"/>
<ellipse cx="611" cy="594" rx="8" ry="6" fill="#0000d2" fill-opacity="0.9" filter="url(#bl1_5)"/>
<ellipse cx="617" cy="584" rx="7" ry="8" fill="#2a2ad8" fill-opacity="0.6" filter="url(#bl2)"/>
<ellipse cx="603.5" cy="574" rx="2.4" ry="7" fill="#ffffff" fill-opacity="0.9" filter="url(#bl0_8)"/>
<ellipse cx="603" cy="584.5" rx="4.5" ry="1.8" fill="#ffffff" fill-opacity="0.85" transform="rotate(-20 603 584.5)" filter="url(#bl0_7)"/>
<ellipse cx="590" cy="567" rx="4.5" ry="2" fill="#ffffff" fill-opacity="0.8" transform="rotate(-20 590 567)" filter="url(#bl0_7)"/>
<path d="M603 572 C602.9 570 602.8 563.7 602.5 560 C602.2 556.3 601.7 551.7 601.5 550" fill="none" stroke="#9090ec" stroke-width="5" stroke-opacity="0.7" stroke-linecap="round" stroke-linejoin="round" filter="url(#bl1_2)"/>
<ellipse cx="603.7" cy="541.7" rx="2.6" ry="1.7" fill="#3030c0" fill-opacity="0.9" transform="rotate(-20 603.7 541.7)" filter="url(#bl0_6)"/>
<ellipse cx="571" cy="574" rx="2.8" ry="2.8" fill="#d01010" fill-opacity="0.95" filter="url(#bl0_7)"/>
<ellipse cx="576" cy="568" rx="2" ry="2" fill="#e04000" fill-opacity="0.9" filter="url(#bl0_6)"/>
<ellipse cx="576" cy="591" rx="2.3" ry="2.3" fill="#e06000" fill-opacity="0.9" filter="url(#bl0_6)"/>
<ellipse cx="566" cy="595" rx="1.8" ry="1.8" fill="#8888ee" fill-opacity="0.8" filter="url(#bl0_6)"/><ellipse cx="588" cy="597" rx="1.8" ry="1.8" fill="#8888ee" fill-opacity="0.8" filter="url(#bl0_6)"/><ellipse cx="558" cy="582" rx="1.8" ry="1.8" fill="#8888ee" fill-opacity="0.8" filter="url(#bl0_6)"/>
<ellipse cx="872" cy="345" rx="38" ry="17" fill="#ffff80" fill-opacity="0.3" transform="rotate(-30 872 345)" filter="url(#bl6)"/>
<ellipse cx="887.8" cy="347.8" rx="5" ry="5" fill="#ffff40" fill-opacity="0.7" filter="url(#bl2)"/>
<ellipse cx="881.4" cy="369.5" rx="4" ry="4" fill="#ffff40" fill-opacity="0.7" filter="url(#bl1_5)"/>
<ellipse cx="874" cy="347" rx="7" ry="4" fill="#b0b0ee" fill-opacity="0.7" filter="url(#bl1_2)"/>
<ellipse cx="853" cy="352" rx="6" ry="3" fill="#b8b8f0" fill-opacity="0.6" transform="rotate(-20 853 352)" filter="url(#bl1_2)"/>
<path d="M872 366 C872.8 364.3 875.7 362.8 878 364 C880.3 365.2 882.8 368.7 886 373 C889.2 377.3 895.5 385.7 897 390 C898.5 394.3 896.5 397.5 895 399 C893.5 400.5 890.5 401.3 888 399 C885.5 396.7 882.5 389.2 880 385 C877.5 380.8 874.3 377.2 873 374 C871.7 370.8 871.2 367.7 872 366Z" fill="#6a6ae6" fill-opacity="0.8" filter="url(#bl1_5)"/>
<ellipse cx="881.4" cy="377.6" rx="3.5" ry="3" fill="#4040dc" fill-opacity="0.7" filter="url(#bl1)"/>
<ellipse cx="875.5" cy="334" rx="1.4" ry="1.4" fill="#3a3ac8" fill-opacity="0.85" filter="url(#bl0_5)"/><ellipse cx="881.4" cy="342" rx="1.4" ry="1.4" fill="#3a3ac8" fill-opacity="0.85" filter="url(#bl0_5)"/><ellipse cx="878.7" cy="354.6" rx="1.4" ry="1.4" fill="#3a3ac8" fill-opacity="0.85" filter="url(#bl0_5)"/><ellipse cx="875.5" cy="368.6" rx="1.4" ry="1.4" fill="#3a3ac8" fill-opacity="0.85" filter="url(#bl0_5)"/><ellipse cx="870" cy="367" rx="1.4" ry="1.4" fill="#3a3ac8" fill-opacity="0.85" filter="url(#bl0_5)"/><ellipse cx="894" cy="323.4" rx="1.4" ry="1.4" fill="#3a3ac8" fill-opacity="0.85" filter="url(#bl0_5)"/><ellipse cx="831" cy="357.7" rx="1.4" ry="1.4" fill="#3a3ac8" fill-opacity="0.85" filter="url(#bl0_5)"/><ellipse cx="836" cy="357" rx="1.4" ry="1.4" fill="#3a3ac8" fill-opacity="0.85" filter="url(#bl0_5)"/><ellipse cx="839" cy="360.5" rx="1.4" ry="1.4" fill="#3a3ac8" fill-opacity="0.85" filter="url(#bl0_5)"/>
<ellipse cx="936" cy="372" rx="40" ry="16" fill="#cfcff8" fill-opacity="0.55" transform="rotate(-18 936 372)" filter="url(#bl7)"/>
<ellipse cx="1232" cy="270" rx="22" ry="20" fill="#dadaf8" fill-opacity="0.6" filter="url(#bl5)"/>
<path d="M1224 290 C1227.8 287.3 1246 287.3 1250 290 C1254 292.7 1250.2 302 1248 306 C1245.8 310 1240.5 314 1237 314 C1233.5 314 1229.2 310 1227 306 C1224.8 302 1220.2 292.7 1224 290Z" fill="#8c8ce6" fill-opacity="0.8" filter="url(#bl2)"/>
<ellipse cx="1236" cy="316" rx="16" ry="3.2" fill="#ffff40" fill-opacity="0.8" filter="url(#bl1_5)"/>
<ellipse cx="1236" cy="320" rx="40" ry="8" fill="#ffffa0" fill-opacity="0.3" filter="url(#bl5)"/>
</g>
<rect x="118.7" y="180.8" width="1846.2" height="527" fill="none" stroke="#e3e3e3" stroke-width="1.6"/>
<rect x="1901.5" y="634.2" width="50.5" height="63.1" fill="#fff" stroke="#000" stroke-width="4.6"/>
<text x="1926.75" y="681.25" font-size="43" font-weight="bold" text-anchor="middle" fill="#000">a</text>
<text x="118.7" y="744" font-size="24.5" text-anchor="middle" fill="#262626">600</text>
<text x="382.44" y="744" font-size="24.5" text-anchor="middle" fill="#262626">700</text>
<text x="646.19" y="744" font-size="24.5" text-anchor="middle" fill="#262626">800</text>
<text x="909.93" y="744" font-size="24.5" text-anchor="middle" fill="#262626">900</text>
<text x="1173.67" y="744" font-size="24.5" text-anchor="middle" fill="#262626">1000</text>
<text x="1437.41" y="744" font-size="24.5" text-anchor="middle" fill="#262626">1100</text>
<text x="1701.16" y="744" font-size="24.5" text-anchor="middle" fill="#262626">1200</text>
<text x="1964.9" y="744" font-size="24.5" text-anchor="middle" fill="#262626">1300</text>
<text x="108.2" y="191.5" font-size="24.5" text-anchor="end" fill="#262626">0</text>
<text x="108.2" y="323.25" font-size="24.5" text-anchor="end" fill="#262626">50</text>
<text x="108.2" y="455" font-size="24.5" text-anchor="end" fill="#262626">100</text>
<text x="108.2" y="586.75" font-size="24.5" text-anchor="end" fill="#262626">150</text>
<text x="108.2" y="718.5" font-size="24.5" text-anchor="end" fill="#262626">200</text>
<text transform="translate(41,442.8) rotate(-90)" font-size="52" text-anchor="middle" fill="#000">Z (km)</text>
<text x="1118.3" y="171.4" font-size="27" font-weight="bold" fill="#000" textLength="202" lengthAdjust="spacing">timeMyr=6.8363</text>
<rect x="119.6" y="837.9" width="1844.7" height="39.5" fill="url(#cm_b)" stroke="#262626" stroke-width="1.3"/>
<line x1="398.6" y1="837.9" x2="398.6" y2="857.9" stroke="#262626" stroke-width="1.2"/>
<text x="398.6" y="824.4" font-size="22" text-anchor="middle" fill="#262626">-2</text>
<line x1="688.7" y1="837.9" x2="688.7" y2="857.9" stroke="#262626" stroke-width="1.2"/>
<text x="688.7" y="824.4" font-size="22" text-anchor="middle" fill="#262626">-1</text>
<line x1="978.8" y1="837.9" x2="978.8" y2="857.9" stroke="#262626" stroke-width="1.2"/>
<text x="978.8" y="824.4" font-size="22" text-anchor="middle" fill="#262626">0</text>
<line x1="1268.9" y1="837.9" x2="1268.9" y2="857.9" stroke="#262626" stroke-width="1.2"/>
<text x="1268.9" y="824.4" font-size="22" text-anchor="middle" fill="#262626">1</text>
<line x1="1559" y1="837.9" x2="1559" y2="857.9" stroke="#262626" stroke-width="1.2"/>
<text x="1559" y="824.4" font-size="22" text-anchor="middle" fill="#262626">2</text>
<line x1="1849.1" y1="837.9" x2="1849.1" y2="857.9" stroke="#262626" stroke-width="1.2"/>
<text x="1849.1" y="824.4" font-size="22" text-anchor="middle" fill="#262626">3</text>
<path d="M1915.4 782.1L1925.2 791.9M1925.2 782.1L1915.4 791.9" stroke="#262626" stroke-width="1.3" fill="none"/>
<text x="1953.6" y="792.7" font-size="22" fill="#262626" text-anchor="end">10</text>
<text x="1953.9" y="782" font-size="18" fill="#262626">9</text>
<g clip-path="url(#clip_b)">
<rect x="119" y="939.1" width="1846" height="527.3" fill="#f9f9fd"/>
<rect x="119" y="1030" width="600" height="16" fill="#ffffff" fill-opacity="0.9" filter="url(#bl3)"/>
<path d="M1045 1070 C1063.3 1002 1107.5 1062.7 1150 1062 C1192.5 1061.3 1270 1059.7 1300 1066 C1330 1072.3 1326.7 1032.7 1330 1100 C1333.3 1167.3 1368.3 1408.3 1320 1470 C1271.7 1531.7 1085.8 1536.7 1040 1470 C994.2 1403.3 1026.7 1138 1045 1070Z" fill="#fffff0" fill-opacity="0.6" filter="url(#bl12)"/>
<path d="M930 1080 C943.3 1013.3 1021.7 1005 1040 1070 C1058.3 1135 1053.3 1403.3 1040 1470 C1026.7 1536.7 978.3 1535 960 1470 C941.7 1405 916.7 1146.7 930 1080Z" fill="#ffffff" fill-opacity="0.6" filter="url(#bl12)"/>
<g filter="url(#bl2_5)"><path d="M100 987 C150 987.5 313.3 989 400 990 C486.6 991 560 992.3 620 993 C680 993.7 721.6 993.5 760 994 C798.3 994.5 835 995.7 850 996" fill="none" stroke="url(#g2)" stroke-width="5.2" stroke-opacity="0.35" stroke-linecap="round" stroke-linejoin="round"/><path d="M99.9 992 C149.9 992.5 313.3 994 399.9 995 C486.6 996 559.9 997.3 619.9 998 C679.9 998.7 721.6 998.5 759.9 999 C798.2 999.5 834.9 1000.7 849.8 1001" fill="none" stroke="url(#g2)" stroke-width="5.2" stroke-opacity="0.55" stroke-linecap="round" stroke-linejoin="round"/><path d="M99.9 997 C149.9 997.5 313.2 999 399.9 1000 C486.5 1001 559.9 1002.3 619.9 1003 C679.9 1003.7 721.5 1003.5 759.8 1004 C798.2 1004.5 834.8 1005.7 849.7 1006" fill="none" stroke="url(#g2)" stroke-width="5.2" stroke-opacity="0.7" stroke-linecap="round" stroke-linejoin="round"/><path d="M99.8 1002 C149.8 1002.5 313.1 1004 399.8 1005 C486.5 1006 559.8 1007.3 619.8 1008 C679.8 1008.7 721.5 1008.5 759.8 1009 C798.1 1009.5 834.6 1010.7 849.6 1011" fill="none" stroke="url(#g2)" stroke-width="5.2" stroke-opacity="0.75" stroke-linecap="round" stroke-linejoin="round"/><path d="M99.8 1007 C149.8 1007.5 313.1 1009 399.7 1010 C486.4 1011 559.8 1012.3 619.8 1013 C679.8 1013.7 721.4 1013.5 759.7 1014 C798 1014.5 834.5 1015.7 849.5 1016" fill="none" stroke="url(#g2)" stroke-width="5.2" stroke-opacity="0.7" stroke-linecap="round" stroke-linejoin="round"/><path d="M99.7 1012 C149.7 1012.5 313 1014 399.7 1015 C486.4 1016 559.7 1017.3 619.7 1018 C679.7 1018.7 721.4 1018.5 759.6 1019 C797.9 1019.5 834.4 1020.7 849.4 1021" fill="none" stroke="url(#g2)" stroke-width="5.2" stroke-opacity="0.62" stroke-linecap="round" stroke-linejoin="round"/><path d="M99.7 1017 C149.7 1017.5 313 1019 399.6 1020 C486.3 1021 559.7 1022.3 619.6 1023 C679.6 1023.7 721.3 1023.5 759.6 1024 C797.9 1024.5 834.3 1025.7 849.3 1026" fill="none" stroke="url(#g2)" stroke-width="5.2" stroke-opacity="0.5" stroke-linecap="round" stroke-linejoin="round"/><path d="M99.6 1022 C149.6 1022.5 312.9 1024 399.6 1025 C486.2 1026 559.6 1027.3 619.6 1028 C679.6 1028.7 721.3 1028.5 759.5 1029 C797.8 1029.5 834.2 1030.7 849.2 1031" fill="none" stroke="url(#g2)" stroke-width="5.2" stroke-opacity="0.38" stroke-linecap="round" stroke-linejoin="round"/><path d="M99.6 1027 C149.6 1027.5 312.9 1029 399.5 1030 C486.2 1031 559.5 1032.3 619.5 1033 C679.5 1033.7 721.2 1033.5 759.5 1034 C797.7 1034.5 834.1 1035.7 849.1 1036" fill="none" stroke="url(#g2)" stroke-width="5.2" stroke-opacity="0.25" stroke-linecap="round" stroke-linejoin="round"/><path d="M99.5 1032 C149.5 1032.5 312.8 1034 399.5 1035 C486.1 1036 559.5 1037.3 619.5 1038 C679.5 1038.7 721.1 1038.5 759.4 1039 C797.6 1039.5 834 1040.7 849 1041" fill="none" stroke="url(#g2)" stroke-width="5.2" stroke-opacity="0.13" stroke-linecap="round" stroke-linejoin="round"/><path d="M99.5 1037 C149.5 1037.5 312.7 1039 399.4 1040 C486.1 1041 559.4 1042.3 619.4 1043 C679.4 1043.7 721.1 1043.5 759.3 1044 C797.6 1044.5 833.9 1045.7 848.8 1046" fill="none" stroke="url(#g2)" stroke-width="5.2" stroke-opacity="0.05" stroke-linecap="round" stroke-linejoin="round"/></g>
<g filter="url(#bl2_2)"><path d="M100.1 1045 C150.1 1045.2 316.8 1045.5 400.2 1046 C483.6 1046.5 554.9 1047.1 600.4 1048 C645.9 1048.9 656.1 1049.3 673.1 1051.4 C690 1053.5 695.2 1056.8 702 1060.5 C708.7 1064.2 711.5 1071.5 713.4 1073.7" fill="none" stroke="#a0a0f2" stroke-width="4.9" stroke-opacity="0.1" stroke-linecap="round" stroke-linejoin="round"/><path d="M100.1 1051 C150.1 1051.2 316.8 1051.5 400.1 1052 C483.5 1052.5 554.9 1053.1 600.3 1054 C645.8 1054.9 656 1055.3 672.8 1057.1 C689.7 1058.9 694.8 1061.6 701.5 1064.7 C708.2 1067.7 711.2 1073.7 713.1 1075.5" fill="none" stroke="#a0a0f2" stroke-width="4.9" stroke-opacity="0.2" stroke-linecap="round" stroke-linejoin="round"/><path d="M100.1 1057 C150.1 1057.2 316.7 1057.5 400.1 1058 C483.5 1058.5 554.8 1059.2 600.2 1060 C645.7 1060.8 655.8 1061.3 672.6 1062.8 C689.4 1064.3 694.4 1066.4 701.1 1068.9 C707.8 1071.3 710.8 1075.9 712.8 1077.3" fill="none" stroke="#a0a0f2" stroke-width="4.9" stroke-opacity="0.32" stroke-linecap="round" stroke-linejoin="round"/><path d="M100 1063 C150 1063.2 316.7 1063.5 400.1 1064 C483.4 1064.5 554.8 1065.2 600.1 1066 C645.5 1066.8 655.6 1067.3 672.4 1068.5 C689.1 1069.7 694 1071.3 700.7 1073 C707.4 1074.8 710.5 1078 712.5 1079" fill="none" stroke="#a0a0f2" stroke-width="4.9" stroke-opacity="0.45" stroke-linecap="round" stroke-linejoin="round"/><path d="M100 1068 C150 1068.2 316.7 1068.5 400 1069 C483.4 1069.5 554.7 1070.3 600.1 1071 C645.4 1071.7 655.5 1072.3 672.2 1073.3 C688.9 1074.2 693.7 1075.3 700.3 1076.5 C707 1077.7 710.3 1079.9 712.2 1080.5" fill="none" stroke="#a0a0f2" stroke-width="4.9" stroke-opacity="0.58" stroke-linecap="round" stroke-linejoin="round"/><path d="M100 1073 C150 1073.2 316.7 1073.5 400 1074 C483.3 1074.5 554.7 1075.3 600 1076 C645.3 1076.7 655.3 1077.3 672 1078 C688.7 1078.7 693.3 1079.3 700 1080 C706.7 1080.7 710 1081.7 712 1082" fill="none" stroke="#a0a0f2" stroke-width="4.9" stroke-opacity="0.64" stroke-linecap="round" stroke-linejoin="round"/><path d="M100 1078 C150 1078.2 316.6 1078.5 400 1079 C483.3 1079.5 554.6 1080.4 599.9 1081 C645.2 1081.6 655.2 1082.3 671.8 1082.7 C688.4 1083.2 693 1083.4 699.7 1083.5 C706.3 1083.6 709.7 1083.5 711.8 1083.5" fill="none" stroke="#a0a0f2" stroke-width="4.9" stroke-opacity="0.22" stroke-linecap="round" stroke-linejoin="round"/><path d="M100 1084 C150 1084.2 316.6 1084.5 399.9 1085 C483.2 1085.5 554.6 1086.4 599.8 1087 C645.1 1087.6 655 1088.3 671.6 1088.4 C688.1 1088.6 692.6 1088.2 699.2 1087.7 C705.9 1087.1 709.4 1085.7 711.5 1085.3" fill="none" stroke="#a0a0f2" stroke-width="4.9" stroke-opacity="0.09" stroke-linecap="round" stroke-linejoin="round"/><path d="M99.9 1090 C149.9 1090.2 316.6 1090.5 399.9 1091 C483.2 1091.5 554.5 1092.5 599.8 1093 C645 1093.5 654.8 1094.3 671.4 1094.1 C687.9 1093.9 692.2 1093 698.8 1091.8 C705.5 1090.7 709.1 1087.8 711.2 1087" fill="none" stroke="#a0a0f2" stroke-width="4.9" stroke-opacity="0.03" stroke-linecap="round" stroke-linejoin="round"/></g>
<ellipse cx="652" cy="1075" rx="52" ry="6" fill="#7070ea" fill-opacity="0.3" filter="url(#bl4)"/>
<ellipse cx="760" cy="1090" rx="70" ry="40" fill="#e4e4fa" fill-opacity="0.5" filter="url(#bl12)"/>
<path d="M119 1090 C165.8 1072 313.2 1091.2 400 1092 C486.8 1092.8 586.7 1092 640 1095 C693.3 1098 710 1092.5 720 1110 C730 1127.5 720 1175 700 1200 C680 1225 650 1251.7 600 1260 C550 1268.3 480.2 1260 400 1250 C319.8 1240 165.8 1226.7 119 1200 C72.2 1173.3 72.2 1108 119 1090Z" fill="#e8e8fa" fill-opacity="0.45" filter="url(#bl20)"/>
<g filter="url(#bl3)"><path d="M598.6 1344.9 C602 1337.2 608.8 1313.2 619.3 1298.7 C629.8 1284.3 644.6 1271.8 661.6 1258.2 C678.6 1244.5 702.2 1230.3 721.5 1216.9 C740.7 1203.6 758.9 1190.9 777.1 1177.9 C795.3 1164.9 816.2 1148.5 830.5 1138.8 C844.7 1129.1 857.2 1122.9 862.6 1119.7" fill="none" stroke="#b4b4f4" stroke-width="6.5" stroke-opacity="0.04" stroke-linecap="round" stroke-linejoin="round"/><path d="M599.8 1346.5 C603.6 1339.4 611.6 1317.4 622.6 1303.7 C633.6 1290.1 648.8 1278.2 666 1264.9 C683.2 1251.5 706.7 1236.9 726 1223.5 C745.3 1210.1 763.7 1197.5 781.9 1184.3 C800.1 1171.2 821.1 1154.6 835.2 1144.7 C849.4 1134.8 861.5 1128.3 866.8 1125" fill="none" stroke="#b4b4f4" stroke-width="6.5" stroke-opacity="0.1" stroke-linecap="round" stroke-linejoin="round"/><path d="M601 1348.2 C605.1 1341.6 614.3 1321.5 625.9 1308.7 C637.5 1296 652.9 1284.7 670.4 1271.6 C687.8 1258.4 711.2 1243.5 730.6 1230.1 C750 1216.6 768.5 1204 786.7 1190.7 C804.9 1177.5 825.9 1160.8 839.9 1150.7 C854 1140.6 865.9 1133.7 871 1130.4" fill="none" stroke="#b4b4f4" stroke-width="6.5" stroke-opacity="0.18" stroke-linecap="round" stroke-linejoin="round"/><path d="M602.1 1349.8 C606.7 1343.8 617.1 1325.7 629.2 1313.7 C641.3 1301.8 657.1 1291.1 674.8 1278.2 C692.4 1265.4 715.7 1250.2 735.2 1236.6 C754.6 1223.1 773.2 1210.5 791.5 1197.2 C809.7 1183.8 830.7 1166.9 844.7 1156.6 C858.6 1146.4 870.2 1139.2 875.3 1135.7" fill="none" stroke="#b4b4f4" stroke-width="6.5" stroke-opacity="0.28" stroke-linecap="round" stroke-linejoin="round"/><path d="M603.3 1351.4 C608.2 1345.9 619.9 1329.8 632.5 1318.7 C645.2 1307.7 661.3 1297.5 679.1 1284.9 C697 1272.4 720.2 1256.8 739.7 1243.2 C759.2 1229.7 778 1217 796.2 1203.6 C814.5 1190.1 835.5 1173 849.4 1162.6 C863.3 1152.2 874.5 1144.6 879.5 1141" fill="none" stroke="#b4b4f4" stroke-width="6.5" stroke-opacity="0.38" stroke-linecap="round" stroke-linejoin="round"/><path d="M604.5 1353 C609.7 1348.1 622.7 1334 635.9 1323.7 C649 1313.5 665.5 1304 683.5 1291.6 C701.6 1279.3 724.7 1263.4 744.3 1249.8 C763.9 1236.2 782.7 1223.5 801 1210 C819.3 1196.4 840.3 1179.2 854.1 1168.6 C867.9 1157.9 878.8 1150 883.7 1146.3" fill="none" stroke="#b4b4f4" stroke-width="6.5" stroke-opacity="0.5" stroke-linecap="round" stroke-linejoin="round"/><path d="M605.6 1354.4 C611.1 1350 625.1 1337.6 638.8 1328.1 C652.4 1318.6 669.1 1309.6 687.4 1297.5 C705.6 1285.4 728.6 1269.2 748.3 1255.5 C767.9 1241.9 786.9 1229.2 805.2 1215.6 C823.5 1202 844.5 1184.5 858.2 1173.8 C871.9 1163 882.6 1154.8 887.4 1151" fill="none" stroke="#b4b4f4" stroke-width="6.5" stroke-opacity="0.6" stroke-linecap="round" stroke-linejoin="round"/><path d="M606.3 1355.4 C612.1 1351.4 626.9 1340.2 640.8 1331.3 C654.8 1322.3 671.7 1313.6 690.1 1301.7 C708.5 1289.7 731.5 1273.3 751.1 1259.6 C770.8 1246 789.9 1233.3 808.2 1219.6 C826.5 1205.9 847.5 1188.4 861.2 1177.5 C874.8 1166.6 885.2 1158.2 890.1 1154.3" fill="none" stroke="#b4b4f4" stroke-width="6.5" stroke-opacity="0.55" stroke-linecap="round" stroke-linejoin="round"/></g>
<g filter="url(#bl5)"><path d="M607.2 1356.7 C613.2 1353 628.8 1343.1 643.1 1334.7 C657.4 1326.2 674.4 1317.7 692.8 1305.9 C711.3 1294 734.3 1277.5 754 1263.7 C773.7 1250 792.8 1237.3 811.2 1223.6 C829.6 1209.9 850.7 1192.3 864.3 1181.5 C878 1170.6 888.5 1162.3 893.3 1158.5" fill="none" stroke="#d0d0f8" stroke-width="7.5" stroke-opacity="0.5" stroke-linecap="round" stroke-linejoin="round"/><path d="M608.7 1358.6 C615 1355.5 631.9 1347.7 646.6 1340 C661.4 1332.3 678.6 1324.2 697.2 1312.6 C715.9 1300.9 738.8 1284.1 758.6 1270.3 C778.4 1256.6 797.5 1243.8 816 1230 C834.4 1216.3 855.6 1198.6 869.3 1187.8 C883 1176.9 893.5 1168.6 898.3 1164.8" fill="none" stroke="#d0d0f8" stroke-width="7.5" stroke-opacity="0.38" stroke-linecap="round" stroke-linejoin="round"/><path d="M610.1 1360.6 C616.8 1358 634.9 1352.2 650.2 1345.3 C665.4 1338.5 682.8 1330.7 701.6 1319.2 C720.4 1307.8 743.3 1290.7 763.1 1276.9 C783 1263.1 802.2 1250.3 820.7 1236.4 C839.3 1222.6 860.5 1204.9 874.3 1194 C888 1183.1 898.5 1174.9 903.3 1171" fill="none" stroke="#d0d0f8" stroke-width="7.5" stroke-opacity="0.25" stroke-linecap="round" stroke-linejoin="round"/><path d="M611.5 1362.5 C618.5 1360.5 638 1356.8 653.7 1350.7 C669.4 1344.6 687 1337.1 706 1325.9 C725 1314.7 747.8 1297.3 767.7 1283.5 C787.6 1269.6 806.9 1256.7 825.5 1242.9 C844.1 1229 865.5 1211.2 879.3 1200.3 C893 1189.4 903.4 1181.1 908.3 1177.3" fill="none" stroke="#d0d0f8" stroke-width="7.5" stroke-opacity="0.14" stroke-linecap="round" stroke-linejoin="round"/><path d="M613.1 1364.7 C620.5 1363.3 641.4 1361.9 657.7 1356.7 C674 1351.5 691.7 1344.4 710.9 1333.5 C730.1 1322.5 752.8 1304.7 772.8 1290.8 C792.8 1276.9 812.2 1264 830.9 1250.1 C849.6 1236.2 871 1218.3 884.8 1207.3 C898.7 1196.4 909 1188.2 913.9 1184.3" fill="none" stroke="#d0d0f8" stroke-width="7.5" stroke-opacity="0.05" stroke-linecap="round" stroke-linejoin="round"/></g>
<g filter="url(#bl5)"><path d="M634.5 1367.5 C632.1 1374.7 625.3 1396.8 620.1 1410.6 C614.9 1424.4 607.4 1438.6 603.2 1450.2 C599 1461.8 596.3 1475.1 594.9 1480.1" fill="none" stroke="#c4c4f6" stroke-width="10.2" stroke-opacity="0.1" stroke-linecap="round" stroke-linejoin="round"/><path d="M625 1364.3 C622.6 1371.4 615.9 1393.3 610.7 1407.1 C605.5 1420.8 598.1 1435.1 593.8 1446.8 C589.6 1458.5 586.7 1472.3 585.3 1477.4" fill="none" stroke="#c4c4f6" stroke-width="10.2" stroke-opacity="0.25" stroke-linecap="round" stroke-linejoin="round"/><path d="M615.5 1361.2 C613.1 1368.2 606.5 1389.8 601.4 1403.5 C596.2 1417.2 588.7 1431.5 584.4 1443.4 C580.1 1455.3 577.1 1469.5 575.6 1474.7" fill="none" stroke="#c4c4f6" stroke-width="10.2" stroke-opacity="0.45" stroke-linecap="round" stroke-linejoin="round"/><path d="M606 1358 C603.7 1365 597.2 1386.3 592 1400 C586.8 1413.7 579.3 1428 575 1440 C570.7 1452 567.5 1466.7 566 1472" fill="none" stroke="#c4c4f6" stroke-width="10.2" stroke-opacity="0.6" stroke-linecap="round" stroke-linejoin="round"/><path d="M596.5 1354.8 C594.2 1361.8 587.8 1382.8 582.6 1396.5 C577.5 1410.1 570 1424.5 565.6 1436.6 C561.2 1448.7 557.9 1463.8 556.4 1469.3" fill="none" stroke="#c4c4f6" stroke-width="10.2" stroke-opacity="0.45" stroke-linecap="round" stroke-linejoin="round"/><path d="M587 1351.7 C584.7 1358.6 578.4 1379.3 573.3 1392.9 C568.2 1406.5 560.6 1420.9 556.2 1433.2 C551.8 1445.5 548.3 1461 546.7 1466.6" fill="none" stroke="#c4c4f6" stroke-width="10.2" stroke-opacity="0.25" stroke-linecap="round" stroke-linejoin="round"/><path d="M577.5 1348.5 C575.3 1355.3 569.1 1375.8 563.9 1389.4 C558.8 1402.9 551.3 1417.4 546.8 1429.8 C542.3 1442.2 538.7 1458.2 537.1 1463.9" fill="none" stroke="#c4c4f6" stroke-width="10.2" stroke-opacity="0.1" stroke-linecap="round" stroke-linejoin="round"/></g>
<g filter="url(#bl3)"><path d="M453.1 1475.2 C460.1 1464 481.4 1429 495 1408.3 C508.6 1387.6 517.4 1371.7 534.6 1350.8 C551.8 1330 583.3 1298.8 598.3 1283.2 C613.4 1267.5 609.1 1269.5 624.8 1256.6 C640.5 1243.8 667.1 1222.9 692.3 1206 C717.5 1189.1 751.8 1169.3 776 1155.2 C800.3 1141.1 827.6 1126.9 837.9 1121.3" fill="none" stroke="#ffffff" stroke-width="8.2" stroke-opacity="0.8" stroke-linecap="round" stroke-linejoin="round"/><path d="M459.9 1479.4 C466.8 1468.3 488.2 1433.3 501.7 1412.7 C515.2 1392.1 523.7 1376.6 540.8 1355.9 C557.9 1335.2 589.3 1304.2 604.1 1288.7 C619 1273.2 614.4 1275.5 629.9 1262.8 C645.3 1250.1 671.8 1229.4 696.8 1212.6 C721.8 1195.8 755.9 1176.2 780 1162.1 C804.2 1148 831.5 1133.9 841.7 1128.3" fill="none" stroke="#ffffff" stroke-width="8.2" stroke-opacity="0.7" stroke-linecap="round" stroke-linejoin="round"/><path d="M466.6 1483.7 C473.6 1472.6 495 1437.5 508.4 1417.1 C521.8 1396.6 530.1 1381.5 547 1361 C563.9 1340.5 595.2 1309.6 609.9 1294.2 C624.6 1278.9 619.7 1281.5 635 1269 C650.2 1256.5 676.4 1235.9 701.3 1219.3 C726.1 1202.6 760 1183 784.1 1169 C808.1 1155 835.3 1140.9 845.6 1135.3" fill="none" stroke="#ffffff" stroke-width="8.2" stroke-opacity="0.5" stroke-linecap="round" stroke-linejoin="round"/></g>
<g filter="url(#bl1_5)"><path d="M448 1472 C455 1460.8 476.3 1425.8 490 1405 C503.7 1384.2 512.7 1368 530 1347 C547.3 1326 578.8 1294.8 594 1279 C609.2 1263.2 605.2 1265 621 1252 C636.8 1239 663.7 1218 689 1201 C714.3 1184 748.7 1164.2 773 1150 C797.3 1135.8 824.7 1121.7 835 1116" fill="none" stroke="#ffff90" stroke-width="4" stroke-opacity="0.45" stroke-linecap="round" stroke-linejoin="round"/><path d="M450.5 1473.6 C457.5 1462.4 478.9 1427.4 492.5 1406.6 C506.1 1385.9 515 1369.8 532.3 1348.9 C549.6 1328 581.1 1296.8 596.2 1281.1 C611.3 1265.3 607.2 1267.2 622.9 1254.3 C638.7 1241.4 665.4 1220.4 690.7 1203.5 C715.9 1186.5 750.2 1166.7 774.5 1152.6 C798.8 1138.4 826.1 1124.3 836.4 1118.6" fill="none" stroke="#ffff90" stroke-width="4" stroke-opacity="0.3" stroke-linecap="round" stroke-linejoin="round"/></g>
<g filter="url(#bl2)"><path d="M867.5 1091.9 C874.3 1086.3 886.5 1067.6 908.4 1058.3 C930.4 1049 967.4 1042.8 999.2 1036.1 C1031 1029.4 1082.6 1021.1 1099.3 1018.1" fill="none" stroke="#fffff0" stroke-width="4.1" stroke-opacity="0.6" stroke-linecap="round" stroke-linejoin="round"/><path d="M870 1095 C876.7 1089.5 888.3 1071.2 910 1062 C931.7 1052.8 968.3 1046.7 1000 1040 C1031.7 1033.3 1083.3 1025 1100 1022" fill="none" stroke="#fffff0" stroke-width="4.1" stroke-opacity="0.7" stroke-linecap="round" stroke-linejoin="round"/><path d="M872.5 1098.1 C879 1092.7 890.2 1074.7 911.6 1065.7 C932.9 1056.7 969.3 1050.5 1000.8 1043.9 C1032.3 1037.3 1084.1 1028.9 1100.7 1025.9" fill="none" stroke="#fffff0" stroke-width="4.1" stroke-opacity="0.5" stroke-linecap="round" stroke-linejoin="round"/></g>
<path d="M826 1025 C830.2 1020.8 846.8 1040.8 860 1050 C873.2 1059.2 896.7 1068.3 905 1080 C913.3 1091.7 912.5 1110 910 1120 C907.5 1130 900 1138 890 1140 C880 1142 860 1136.7 850 1132 C840 1127.3 832.5 1121.5 830 1112 C827.5 1102.5 835.7 1089.5 835 1075 C834.3 1060.5 821.8 1029.2 826 1025Z" fill="#ffff80" fill-opacity="0.5" filter="url(#bl9)"/>
<ellipse cx="868" cy="1100" rx="24" ry="24" fill="#ffff40" fill-opacity="0.55" filter="url(#bl6)"/>
<ellipse cx="848" cy="1118" rx="14" ry="10" fill="#ffff20" fill-opacity="0.5" filter="url(#bl3)"/>
<ellipse cx="849" cy="1118" rx="12" ry="7" fill="#ffff00" fill-opacity="0.6" transform="rotate(20 849 1118)" filter="url(#bl2_5)"/>
<ellipse cx="847" cy="1107" rx="5" ry="3.5" fill="#ffffff" fill-opacity="0.9" filter="url(#bl1)"/>
<ellipse cx="862" cy="1097" rx="5" ry="2.5" fill="#ffffff" fill-opacity="0.8" filter="url(#bl1)"/>
<ellipse cx="855.5" cy="1106" rx="4.5" ry="3.5" fill="#e05a00" fill-opacity="0.95" filter="url(#bl1)"/>
<ellipse cx="851" cy="1102.5" rx="1.8" ry="1.4" fill="#b04000" fill-opacity="0.9" filter="url(#bl0_5)"/>
<ellipse cx="882.5" cy="1097.5" rx="3.2" ry="2.6" fill="#e06000" fill-opacity="0.95" filter="url(#bl0_8)"/>
<ellipse cx="865" cy="1108" rx="1.3" ry="1.3" fill="#c06000" fill-opacity="0.85" filter="url(#bl0_4)"/><ellipse cx="876" cy="1113" rx="1.3" ry="1.3" fill="#c06000" fill-opacity="0.85" filter="url(#bl0_4)"/><ellipse cx="886" cy="1113" rx="1.3" ry="1.3" fill="#c06000" fill-opacity="0.85" filter="url(#bl0_4)"/><ellipse cx="851" cy="1111" rx="1.3" ry="1.3" fill="#c06000" fill-opacity="0.85" filter="url(#bl0_4)"/>
<ellipse cx="882.5" cy="1105" rx="3" ry="3" fill="#6868e0" fill-opacity="0.9" filter="url(#bl0_8)"/>
<ellipse cx="866" cy="1111.5" rx="2.2" ry="1.8" fill="#6868e0" fill-opacity="0.9" filter="url(#bl0_6)"/>
<ellipse cx="889" cy="1097.5" rx="1.8" ry="1.8" fill="#6060e0" fill-opacity="0.9" filter="url(#bl0_5)"/>
<ellipse cx="870" cy="1114" rx="3" ry="1.6" fill="#8080e8" fill-opacity="0.8" transform="rotate(-30 870 1114)" filter="url(#bl0_6)"/>
<ellipse cx="879" cy="1119.5" rx="7" ry="5.4" fill="#3c3ce0" fill-opacity="0.95" filter="url(#bl0_9)"/>
<path d="M889.5 1118 C889 1118.8 887.6 1121.4 886.5 1123 C885.4 1124.6 883.6 1126.8 883 1127.5" fill="none" stroke="#c03000" stroke-width="2.2" stroke-opacity="0.9" stroke-linecap="round" stroke-linejoin="round" filter="url(#bl0_6)"/>
<path d="M880 1133 C881.7 1129.8 888.8 1130.2 892 1131 C895.2 1131.8 898.2 1134.8 899 1138 C899.8 1141.2 898.5 1146.3 897 1150 C895.5 1153.7 892.5 1160 890 1160 C887.5 1160 883.7 1154.5 882 1150 C880.3 1145.5 878.3 1136.2 880 1133Z" fill="#6060e4" fill-opacity="0.85" filter="url(#bl1_5)"/>
<ellipse cx="892.3" cy="1138" rx="4.5" ry="3.5" fill="#0000c8" fill-opacity="0.9" filter="url(#bl1_2)"/>
<path d="M896 1138 L960 1110 L1020 1100 L1035 1118 L1010 1145 L950 1150 L896 1142Z" fill="#c8c8f6" fill-opacity="0.55" filter="url(#bl8)"/>
<path d="M896 1140 L945 1125 L975 1130 L945 1145Z" fill="#a8a8f2" fill-opacity="0.45" filter="url(#bl5)"/>
<ellipse cx="800.5" cy="1111" rx="6" ry="5" fill="#5a5ae4" fill-opacity="0.9" filter="url(#bl1_2)"/>
<ellipse cx="793" cy="1120" rx="5" ry="4" fill="#ffffff" fill-opacity="0.9" filter="url(#bl1)"/>
<ellipse cx="810" cy="1104" rx="4" ry="3" fill="#ffffff" fill-opacity="0.8" filter="url(#bl1)"/>
<ellipse cx="790" cy="1100" rx="22" ry="16" fill="#d8d8f8" fill-opacity="0.5" filter="url(#bl6)"/>
<g filter="url(#bl6)"><path d="M839.7 990 C853.1 989.7 894.2 987.7 920.2 988 C946.1 988.3 983.1 991.3 995.6 992" fill="none" stroke="#e0e0fa" stroke-width="8.2" stroke-opacity="0.35" stroke-linecap="round" stroke-linejoin="round"/><path d="M839.9 998 C853.3 997.7 894.2 995.7 920.1 996 C945.9 996.3 982.7 999.3 995.2 1000" fill="none" stroke="#e0e0fa" stroke-width="8.2" stroke-opacity="0.5" stroke-linecap="round" stroke-linejoin="round"/><path d="M840.1 1006 C853.4 1005.7 894.2 1003.7 919.9 1004 C945.7 1004.3 982.3 1007.3 994.8 1008" fill="none" stroke="#e0e0fa" stroke-width="8.2" stroke-opacity="0.5" stroke-linecap="round" stroke-linejoin="round"/><path d="M840.3 1014 C853.6 1013.7 894.2 1011.7 919.8 1012 C945.5 1012.3 981.9 1015.3 994.4 1016" fill="none" stroke="#e0e0fa" stroke-width="8.2" stroke-opacity="0.35" stroke-linecap="round" stroke-linejoin="round"/></g>
<g filter="url(#bl7)"><path d="M910.9 1015 C925.6 1014.2 968.1 1010.8 999.5 1010 C1030.8 1009.2 1065.9 1011.7 1099 1010 C1132.1 1008.4 1161.3 1003.8 1198 1000.1 C1234.7 996.4 1260.6 990.4 1319.2 988 C1377.8 985.7 1511.4 986.3 1549.8 986" fill="none" stroke="#e2e2fa" stroke-width="10.2" stroke-opacity="0.3" stroke-linecap="round" stroke-linejoin="round"/><path d="M911.4 1025 C926.1 1024.2 968.4 1020.8 999.7 1020 C1031.1 1019.2 1066.3 1021.7 1099.5 1020 C1132.7 1018.4 1162.3 1013.7 1199 1010 C1235.7 1006.4 1261.1 1000.3 1319.6 998 C1378.1 995.7 1511.5 996.3 1549.9 996" fill="none" stroke="#e2e2fa" stroke-width="10.2" stroke-opacity="0.45" stroke-linecap="round" stroke-linejoin="round"/><path d="M912 1035 C926.7 1034.2 968.7 1030.8 1000 1030 C1031.3 1029.2 1066.7 1031.7 1100 1030 C1133.3 1028.3 1163.3 1023.7 1200 1020 C1236.7 1016.3 1261.7 1010.3 1320 1008 C1378.3 1005.7 1511.7 1006.3 1550 1006" fill="none" stroke="#e2e2fa" stroke-width="10.2" stroke-opacity="0.5" stroke-linecap="round" stroke-linejoin="round"/><path d="M912.6 1045 C927.2 1044.2 968.9 1040.8 1000.3 1040 C1031.6 1039.2 1067 1041.7 1100.5 1040 C1134 1038.3 1164.3 1033.6 1201 1030 C1237.6 1026.3 1262.2 1020.3 1320.4 1018 C1378.6 1015.7 1511.8 1016.3 1550.1 1016" fill="none" stroke="#e2e2fa" stroke-width="10.2" stroke-opacity="0.45" stroke-linecap="round" stroke-linejoin="round"/><path d="M913.1 1055 C927.7 1054.1 969.2 1050.8 1000.5 1050 C1031.8 1049.2 1067.4 1051.7 1101 1050 C1134.6 1048.3 1165.4 1043.6 1202 1039.9 C1238.6 1036.2 1262.8 1030.3 1320.8 1028 C1378.8 1025.7 1511.9 1026.3 1550.2 1026" fill="none" stroke="#e2e2fa" stroke-width="10.2" stroke-opacity="0.3" stroke-linecap="round" stroke-linejoin="round"/></g>
<ellipse cx="1250" cy="1014" rx="40" ry="26" fill="#e4e4fa" fill-opacity="0.55" filter="url(#bl6)"/>
<path d="M1240 1046 C1243.2 1041.7 1257.3 1038 1262 1040 C1266.7 1042 1269 1053 1268 1058 C1267 1063 1260.2 1068.7 1256 1070 C1251.8 1071.3 1245.7 1070 1243 1066 C1240.3 1062 1236.8 1050.3 1240 1046Z" fill="#9898e4" fill-opacity="0.85" filter="url(#bl2)"/>
<ellipse cx="1251" cy="1075" rx="9" ry="3" fill="#ffff00" fill-opacity="0.95" filter="url(#bl1_2)"/>
<ellipse cx="1252" cy="1076" rx="32" ry="7" fill="#ffff60" fill-opacity="0.45" filter="url(#bl5)"/>
<ellipse cx="1240" cy="1020" rx="2.5" ry="2.5" fill="#ffffa0" fill-opacity="0.7" filter="url(#bl0_8)"/><ellipse cx="1262" cy="1010" rx="2.5" ry="2.5" fill="#ffffa0" fill-opacity="0.7" filter="url(#bl0_8)"/><ellipse cx="1256" cy="1030" rx="2.5" ry="2.5" fill="#ffffa0" fill-opacity="0.7" filter="url(#bl0_8)"/><ellipse cx="1272" cy="1026" rx="2.5" ry="2.5" fill="#ffffa0" fill-opacity="0.7" filter="url(#bl0_8)"/><ellipse cx="1230" cy="1004" rx="2.5" ry="2.5" fill="#ffffa0" fill-opacity="0.7" filter="url(#bl0_8)"/>
<g filter="url(#bl6)"><path d="M1500.4 1046 C1517.1 1046.3 1550.4 1047.3 1600.3 1048 C1650.2 1048.7 1737.6 1050 1800 1050 C1862.4 1050 1945.6 1048.3 1974.7 1048" fill="none" stroke="#d6d6f8" stroke-width="8.2" stroke-opacity="0.15" stroke-linecap="round" stroke-linejoin="round"/><path d="M1500.3 1054 C1516.9 1054.3 1550.2 1055.3 1600.2 1056 C1650.1 1056.7 1737.6 1058 1800 1058 C1862.4 1058 1945.7 1056.3 1974.8 1056" fill="none" stroke="#d6d6f8" stroke-width="8.2" stroke-opacity="0.3" stroke-linecap="round" stroke-linejoin="round"/><path d="M1500.1 1062 C1516.8 1062.3 1550.1 1063.3 1600.1 1064 C1650.1 1064.7 1737.5 1066 1800 1066 C1862.5 1066 1945.8 1064.3 1974.9 1064" fill="none" stroke="#d6d6f8" stroke-width="8.2" stroke-opacity="0.42" stroke-linecap="round" stroke-linejoin="round"/><path d="M1500 1070 C1516.6 1070.3 1550 1071.3 1600 1072 C1650 1072.7 1737.5 1074 1800 1074 C1862.5 1074 1945.9 1072.3 1975 1072" fill="none" stroke="#d6d6f8" stroke-width="8.2" stroke-opacity="0.42" stroke-linecap="round" stroke-linejoin="round"/><path d="M1499.8 1078 C1516.5 1078.3 1549.8 1079.3 1599.9 1080 C1649.9 1080.7 1737.5 1082 1800 1082 C1862.5 1082 1945.9 1080.3 1975.1 1080" fill="none" stroke="#d6d6f8" stroke-width="8.2" stroke-opacity="0.26" stroke-linecap="round" stroke-linejoin="round"/><path d="M1499.6 1086 C1516.3 1086.3 1549.7 1087.3 1599.8 1088 C1649.8 1088.7 1737.4 1090 1800 1090 C1862.6 1090 1946 1088.3 1975.2 1088" fill="none" stroke="#d6d6f8" stroke-width="8.2" stroke-opacity="0.1" stroke-linecap="round" stroke-linejoin="round"/></g>
<path d="M1650 996 C1675 995.8 1745.8 995.3 1800 995 C1854.2 994.7 1945.8 994.2 1975 994" fill="none" stroke="#ffffe0" stroke-width="22" stroke-opacity="0.4" stroke-linecap="round" stroke-linejoin="round" filter="url(#bl6)"/>
</g>
<rect x="119" y="939.1" width="1846" height="527.3" fill="none" stroke="#e3e3e3" stroke-width="1.6"/>
<rect x="1901.5" y="1390.2" width="50.5" height="62.9" fill="#fff" stroke="#000" stroke-width="4.6"/>
<text x="1926.75" y="1437.15" font-size="43" font-weight="bold" text-anchor="middle" fill="#000">b</text>
<text x="119" y="1502.6" font-size="24.5" text-anchor="middle" fill="#262626">600</text>
<text x="382.71" y="1502.6" font-size="24.5" text-anchor="middle" fill="#262626">700</text>
<text x="646.43" y="1502.6" font-size="24.5" text-anchor="middle" fill="#262626">800</text>
<text x="910.14" y="1502.6" font-size="24.5" text-anchor="middle" fill="#262626">900</text>
<text x="1173.86" y="1502.6" font-size="24.5" text-anchor="middle" fill="#262626">1000</text>
<text x="1437.57" y="1502.6" font-size="24.5" text-anchor="middle" fill="#262626">1100</text>
<text x="1701.29" y="1502.6" font-size="24.5" text-anchor="middle" fill="#262626">1200</text>
<text x="1965" y="1502.6" font-size="24.5" text-anchor="middle" fill="#262626">1300</text>
<text x="108.5" y="949.8" font-size="24.5" text-anchor="end" fill="#262626">0</text>
<text x="108.5" y="1081.62" font-size="24.5" text-anchor="end" fill="#262626">50</text>
<text x="108.5" y="1213.45" font-size="24.5" text-anchor="end" fill="#262626">100</text>
<text x="108.5" y="1345.28" font-size="24.5" text-anchor="end" fill="#262626">150</text>
<text x="108.5" y="1477.1" font-size="24.5" text-anchor="end" fill="#262626">200</text>
<text transform="translate(41,1207.8) rotate(-90)" font-size="52" text-anchor="middle" fill="#000">Z (km)</text>
<text x="1118.3" y="929.6" font-size="27" font-weight="bold" fill="#000" textLength="202" lengthAdjust="spacing">timeMyr=7.2551</text>
<rect x="117.8" y="1606.3" width="1844.8" height="39.2" fill="url(#cm_c)" stroke="#262626" stroke-width="1.3"/>
<line x1="141.8" y1="1606.3" x2="141.8" y2="1626.3" stroke="#262626" stroke-width="1.2"/>
<text x="141.8" y="1592.2" font-size="22" text-anchor="middle" fill="#262626">-6</text>
<line x1="408.08" y1="1606.3" x2="408.08" y2="1626.3" stroke="#262626" stroke-width="1.2"/>
<text x="408.08" y="1592.2" font-size="22" text-anchor="middle" fill="#262626">-4</text>
<line x1="674.36" y1="1606.3" x2="674.36" y2="1626.3" stroke="#262626" stroke-width="1.2"/>
<text x="674.36" y="1592.2" font-size="22" text-anchor="middle" fill="#262626">-2</text>
<line x1="940.64" y1="1606.3" x2="940.64" y2="1626.3" stroke="#262626" stroke-width="1.2"/>
<text x="940.64" y="1592.2" font-size="22" text-anchor="middle" fill="#262626">0</text>
<line x1="1206.92" y1="1606.3" x2="1206.92" y2="1626.3" stroke="#262626" stroke-width="1.2"/>
<text x="1206.92" y="1592.2" font-size="22" text-anchor="middle" fill="#262626">2</text>
<line x1="1473.2" y1="1606.3" x2="1473.2" y2="1626.3" stroke="#262626" stroke-width="1.2"/>
<text x="1473.2" y="1592.2" font-size="22" text-anchor="middle" fill="#262626">4</text>
<line x1="1739.48" y1="1606.3" x2="1739.48" y2="1626.3" stroke="#262626" stroke-width="1.2"/>
<text x="1739.48" y="1592.2" font-size="22" text-anchor="middle" fill="#262626">6</text>
<path d="M1913.7 1550.1L1923.5 1559.9M1923.5 1550.1L1913.7 1559.9" stroke="#262626" stroke-width="1.3" fill="none"/>
<text x="1951.9" y="1560.7" font-size="22" fill="#262626" text-anchor="end">10</text>
<text x="1952.2" y="1550" font-size="18" fill="#262626">9</text>
<g clip-path="url(#clip_c)">
<rect x="117.2" y="1707.4" width="1846.3" height="527.3" fill="#fafafd"/>
<g filter="url(#bl6)"><path d="M110.1 1752 C141.8 1752.3 235.1 1753.2 300.1 1754 C365.1 1754.8 456.8 1756 500.2 1757 C543.6 1758 550.4 1759.5 560.4 1760" fill="none" stroke="#ffffd8" stroke-width="8.2" stroke-opacity="0.2" stroke-linecap="round" stroke-linejoin="round"/><path d="M110 1760 C141.7 1760.3 235 1761.2 300 1762 C365 1762.8 456.7 1764 500 1765 C543.3 1766 550 1767.5 560 1768" fill="none" stroke="#ffffd8" stroke-width="8.2" stroke-opacity="0.3" stroke-linecap="round" stroke-linejoin="round"/><path d="M109.9 1768 C141.6 1768.3 234.9 1769.2 299.9 1770 C364.9 1770.8 456.5 1772 499.8 1773 C543.1 1774 549.6 1775.5 559.6 1776" fill="none" stroke="#ffffd8" stroke-width="8.2" stroke-opacity="0.35" stroke-linecap="round" stroke-linejoin="round"/><path d="M109.8 1776 C141.5 1776.3 234.8 1777.2 299.8 1778 C364.8 1778.8 456.4 1780 499.6 1781 C542.9 1782 549.3 1783.5 559.2 1784" fill="none" stroke="#ffffd8" stroke-width="8.2" stroke-opacity="0.3" stroke-linecap="round" stroke-linejoin="round"/><path d="M109.7 1784 C141.4 1784.3 234.7 1785.2 299.7 1786 C364.6 1786.8 456.3 1788 499.4 1789 C542.6 1790 548.9 1791.5 558.8 1792" fill="none" stroke="#ffffd8" stroke-width="8.2" stroke-opacity="0.2" stroke-linecap="round" stroke-linejoin="round"/><path d="M109.7 1792 C141.3 1792.3 234.7 1793.2 299.6 1794 C364.5 1794.8 456.1 1796 499.3 1797 C542.4 1798 548.5 1799.5 558.4 1800" fill="none" stroke="#ffffd8" stroke-width="8.2" stroke-opacity="0.1" stroke-linecap="round" stroke-linejoin="round"/></g>
<rect x="110" y="1800" width="460" height="16" fill="#ffffff" fill-opacity="0.8" filter="url(#bl4)"/>
<g filter="url(#bl6)"><path d="M110.1 1830 C141.8 1830.3 251.8 1831.2 300.2 1832 C348.5 1832.8 383.6 1834.5 400.3 1835" fill="none" stroke="#eaeafa" stroke-width="10.2" stroke-opacity="0.3" stroke-linecap="round" stroke-linejoin="round"/><path d="M110 1840 C141.7 1840.3 251.7 1841.2 300 1842 C348.3 1842.8 383.3 1844.5 400 1845" fill="none" stroke="#eaeafa" stroke-width="10.2" stroke-opacity="0.4" stroke-linecap="round" stroke-linejoin="round"/><path d="M109.9 1850 C141.6 1850.3 251.5 1851.2 299.8 1852 C348.1 1852.8 383.1 1854.5 399.7 1855" fill="none" stroke="#eaeafa" stroke-width="10.2" stroke-opacity="0.3" stroke-linecap="round" stroke-linejoin="round"/></g>
<path d="M568 1755 C589.7 1749.5 644.7 1751.2 700 1752 C755.3 1752.8 851.7 1757 900 1760 C948.3 1763 980 1763.3 990 1770 C1000 1776.7 991.7 1794 960 1800 C928.3 1806 851.7 1806 800 1806 C748.3 1806 688.3 1803.5 650 1800 C611.7 1796.5 583.7 1792.5 570 1785 C556.3 1777.5 546.3 1760.5 568 1755Z" fill="#e0e0fa" fill-opacity="0.4" filter="url(#bl7)"/>
<ellipse cx="760" cy="1785" rx="60" ry="10" fill="#d0d0f6" fill-opacity="0.35" filter="url(#bl6)"/>
<ellipse cx="660" cy="1835" rx="70" ry="20" fill="#ffffc0" fill-opacity="0.6" filter="url(#bl8)"/>
<ellipse cx="690" cy="1843" rx="20" ry="10" fill="#ffff90" fill-opacity="0.45" filter="url(#bl5)"/>
<ellipse cx="778" cy="1888" rx="15" ry="12" fill="#ffff30" fill-opacity="0.8" filter="url(#bl4)"/>
<ellipse cx="785" cy="1900" rx="30" ry="25" fill="#ffff90" fill-opacity="0.45" filter="url(#bl8)"/>
<g filter="url(#bl5)"><path d="M557.8 2018.4 C563.8 2014 579 2001.4 593.4 1992 C607.8 1982.5 627.2 1971.2 644.1 1961.6 C660.9 1952 675.9 1944.5 694.3 1934.5 C712.6 1924.4 734.2 1912.3 754.3 1901.4 C774.3 1890.6 794.5 1879.4 814.6 1869.3 C834.8 1859.2 860.1 1847.4 875.3 1840.9 C890.6 1834.5 885.8 1837.8 906 1830.7 C926.3 1823.6 964.8 1807.5 996.7 1798.5 C1028.6 1789.4 1080.6 1780 1097.4 1776.3" fill="none" stroke="#d8d8f8" stroke-width="8.2" stroke-opacity="0.3" stroke-linecap="round" stroke-linejoin="round"/><path d="M562.6 2024.8 C568.5 2020.4 583.6 2008 597.8 1998.7 C612 1989.3 631.3 1978.1 648 1968.5 C664.7 1959 679.7 1951.5 698.1 1941.5 C716.4 1931.5 738.1 1919.3 758.1 1908.5 C778.1 1897.6 798.2 1886.5 818.2 1876.4 C838.3 1866.4 863.4 1854.7 878.4 1848.3 C893.5 1841.9 888.6 1845.3 908.7 1838.2 C928.8 1831.2 967.2 1815.2 998.9 1806.2 C1030.7 1797.1 1082.4 1787.8 1099.1 1784.1" fill="none" stroke="#d8d8f8" stroke-width="8.2" stroke-opacity="0.45" stroke-linecap="round" stroke-linejoin="round"/><path d="M567.4 2031.2 C573.2 2026.9 588.1 2014.6 602.2 2005.3 C616.3 1996.1 635.4 1984.9 652 1975.5 C668.6 1966 683.6 1958.5 701.9 1948.5 C720.2 1938.5 741.9 1926.3 761.9 1915.5 C781.9 1904.7 801.8 1893.5 821.8 1883.6 C841.7 1873.6 866.6 1862 881.6 1855.7 C896.5 1849.4 891.4 1852.7 911.3 1845.8 C931.2 1838.8 969.5 1822.8 1001.1 1813.8 C1032.7 1804.9 1084.2 1795.6 1100.9 1791.9" fill="none" stroke="#d8d8f8" stroke-width="8.2" stroke-opacity="0.5" stroke-linecap="round" stroke-linejoin="round"/><path d="M572.2 2037.6 C577.9 2033.4 592.6 2021.2 606.6 2012 C620.6 2002.8 639.4 1991.8 655.9 1982.4 C672.5 1973 687.5 1965.5 705.7 1955.5 C724 1945.6 745.8 1933.4 765.7 1922.6 C785.7 1911.8 805.5 1900.6 825.4 1890.7 C845.2 1880.8 869.9 1869.3 884.7 1863.1 C899.4 1856.8 894.2 1860.2 914 1853.3 C933.7 1846.4 971.8 1830.5 1003.3 1821.5 C1034.7 1812.6 1086 1803.4 1102.6 1799.7" fill="none" stroke="#d8d8f8" stroke-width="8.2" stroke-opacity="0.4" stroke-linecap="round" stroke-linejoin="round"/><path d="M576.9 2044.1 C582.6 2039.8 597.2 2027.8 611 2018.7 C624.8 2009.6 643.5 1998.7 659.9 1989.4 C676.3 1980 691.3 1972.5 709.6 1962.6 C727.8 1952.6 749.6 1940.4 769.5 1929.6 C789.4 1918.8 809.2 1907.7 828.9 1897.9 C848.7 1888 873.2 1876.6 887.8 1870.4 C902.4 1864.3 897 1867.7 916.6 1860.9 C936.2 1854 974.2 1838.1 1005.5 1829.2 C1036.7 1820.3 1087.8 1811.2 1104.3 1807.5" fill="none" stroke="#d8d8f8" stroke-width="8.2" stroke-opacity="0.2" stroke-linecap="round" stroke-linejoin="round"/></g>
<g filter="url(#bl1_5)"><path d="M563.8 2026.4 C569.7 2022.1 584.7 2009.7 598.9 2000.3 C613.1 1991 632.3 1979.8 649 1970.3 C665.7 1960.7 680.7 1953.2 699 1943.2 C717.4 1933.2 739 1921.1 759 1910.2 C779.1 1899.4 799.1 1888.2 819.1 1878.2 C839.1 1868.2 869.1 1854.9 879.2 1850.2" fill="none" stroke="#ffffff" stroke-width="3" stroke-opacity="0.6" stroke-linecap="round" stroke-linejoin="round"/></g>
<path d="M840 1860 C841.7 1850 867.3 1843.7 880 1840 C892.7 1836.3 910.7 1831.3 916 1838 C921.3 1844.7 914.7 1866.7 912 1880 C909.3 1893.3 907 1914.7 900 1918 C893 1921.3 880 1909.7 870 1900 C860 1890.3 838.3 1870 840 1860Z" fill="#e0e0f8" fill-opacity="0.55" filter="url(#bl4)"/>
<path d="M898 1872 C898.3 1875.8 899.7 1887.8 900 1895 C900.3 1902.2 900 1911.7 900 1915" fill="none" stroke="#b8b8ec" stroke-width="6" stroke-opacity="0.7" stroke-linecap="round" stroke-linejoin="round" filter="url(#bl2)"/>
<ellipse cx="860" cy="1868" rx="2.5" ry="2.5" fill="#ffff80" fill-opacity="0.7" filter="url(#bl0_8)"/><ellipse cx="872" cy="1862" rx="2.5" ry="2.5" fill="#ffff80" fill-opacity="0.7" filter="url(#bl0_8)"/><ellipse cx="885" cy="1858" rx="2.5" ry="2.5" fill="#ffff80" fill-opacity="0.7" filter="url(#bl0_8)"/><ellipse cx="880" cy="1875" rx="2.5" ry="2.5" fill="#ffff80" fill-opacity="0.7" filter="url(#bl0_8)"/><ellipse cx="895" cy="1866" rx="2.5" ry="2.5" fill="#ffff80" fill-opacity="0.7" filter="url(#bl0_8)"/><ellipse cx="866" cy="1880" rx="2.5" ry="2.5" fill="#ffff80" fill-opacity="0.7" filter="url(#bl0_8)"/>
<path d="M900 1918 L850 1945 L810 1972 L830 1985 L880 1960 L910 1930Z" fill="#c8c8f4" fill-opacity="0.6" filter="url(#bl7)"/>
<path d="M905 1895 L1000 1875 L1100 1880 L1100 1915 L1000 1910 L905 1912Z" fill="#ffffd0" fill-opacity="0.5" filter="url(#bl8)"/>
<g filter="url(#bl4_5)"><path d="M401.7 2225.7 C405 2218.7 414.7 2198.8 421.5 2184.1 C428.2 2169.4 434.1 2152.5 442.3 2137.5 C450.4 2122.6 460.7 2106.2 470.2 2094.6 C479.7 2082.9 489.9 2074.1 499.3 2067.8 C508.7 2061.5 522 2058.4 526.6 2056.6" fill="none" stroke="#a8a8f2" stroke-width="7.4" stroke-opacity="0.35" stroke-linecap="round" stroke-linejoin="round"/><path d="M408.9 2229.1 C412.2 2222.2 422 2202.1 428.7 2187.5 C435.5 2172.8 441.4 2156 449.4 2141.2 C457.3 2126.4 467.4 2110.4 476.5 2098.9 C485.6 2087.3 495.2 2078.6 504.1 2072.1 C512.9 2065.5 525.2 2061.5 529.4 2059.4" fill="none" stroke="#a8a8f2" stroke-width="7.4" stroke-opacity="0.55" stroke-linecap="round" stroke-linejoin="round"/><path d="M416.1 2232.5 C419.4 2225.6 429.3 2205.4 436 2190.8 C442.7 2176.2 448.7 2159.5 456.5 2144.9 C464.3 2130.3 474 2114.6 482.8 2103.2 C491.5 2091.7 500.6 2083.1 508.8 2076.3 C517.1 2069.5 528.3 2064.6 532.2 2062.2" fill="none" stroke="#a8a8f2" stroke-width="7.4" stroke-opacity="0.6" stroke-linecap="round" stroke-linejoin="round"/><path d="M423.4 2236 C426.7 2229 436.6 2208.7 443.3 2194.2 C450 2179.6 455.9 2163 463.6 2148.6 C471.2 2134.1 480.7 2118.8 489 2107.5 C497.4 2096.1 506 2087.6 513.6 2080.6 C521.3 2073.5 531.5 2067.6 535.1 2065.1" fill="none" stroke="#a8a8f2" stroke-width="7.4" stroke-opacity="0.6" stroke-linecap="round" stroke-linejoin="round"/><path d="M430.6 2239.4 C433.9 2232.4 443.9 2212 450.5 2197.5 C457.2 2183 463.2 2166.5 470.7 2152.2 C478.1 2138 487.3 2123 495.3 2111.8 C503.3 2100.5 511.3 2092.1 518.4 2084.8 C525.5 2077.5 534.6 2070.7 537.9 2067.9" fill="none" stroke="#a8a8f2" stroke-width="7.4" stroke-opacity="0.58" stroke-linecap="round" stroke-linejoin="round"/><path d="M437.8 2242.9 C441.1 2235.9 451.2 2215.3 457.8 2200.8 C464.5 2186.3 470.5 2170 477.8 2155.9 C485.1 2141.8 494 2127.2 501.6 2116.1 C509.1 2104.9 516.7 2096.6 523.2 2089.1 C529.7 2081.5 537.8 2073.8 540.7 2070.7" fill="none" stroke="#a8a8f2" stroke-width="7.4" stroke-opacity="0.55" stroke-linecap="round" stroke-linejoin="round"/><path d="M445 2246.3 C448.4 2239.3 458.4 2218.6 465.1 2204.2 C471.7 2189.7 477.8 2173.6 484.9 2159.6 C492 2145.6 500.6 2131.4 507.8 2120.4 C515 2109.3 522 2101.1 528 2093.3 C533.9 2085.5 540.9 2076.8 543.5 2073.5" fill="none" stroke="#a8a8f2" stroke-width="7.4" stroke-opacity="0.5" stroke-linecap="round" stroke-linejoin="round"/><path d="M452.3 2249.7 C455.6 2242.7 465.7 2221.9 472.4 2207.5 C479 2193.1 485 2177.1 492 2163.3 C498.9 2149.5 507.3 2135.6 514.1 2124.7 C520.9 2113.7 527.4 2105.6 532.8 2097.6 C538.1 2089.5 544.1 2079.9 546.4 2076.4" fill="none" stroke="#a8a8f2" stroke-width="7.4" stroke-opacity="0.42" stroke-linecap="round" stroke-linejoin="round"/><path d="M459.5 2253.2 C462.8 2246.1 473 2225.2 479.6 2210.9 C486.2 2196.5 492.3 2180.6 499.1 2167 C505.9 2153.3 514 2139.8 520.4 2129 C526.8 2118.1 532.7 2110.1 537.5 2101.8 C542.4 2093.5 547.3 2083 549.2 2079.2" fill="none" stroke="#a8a8f2" stroke-width="7.4" stroke-opacity="0.3" stroke-linecap="round" stroke-linejoin="round"/><path d="M466.7 2256.6 C470.1 2249.5 480.3 2228.5 486.9 2214.2 C493.5 2199.9 499.6 2184.1 506.2 2170.6 C512.8 2157.1 520.6 2144 526.6 2133.3 C532.7 2122.5 538.1 2114.6 542.3 2106.1 C546.6 2097.5 550.4 2086 552 2082" fill="none" stroke="#a8a8f2" stroke-width="7.4" stroke-opacity="0.15" stroke-linecap="round" stroke-linejoin="round"/></g>
<ellipse cx="412" cy="2222" rx="4" ry="4" fill="#9898ee" fill-opacity="0.3" filter="url(#bl1_5)"/><ellipse cx="421" cy="2205" rx="4" ry="4" fill="#9898ee" fill-opacity="0.3" filter="url(#bl1_5)"/><ellipse cx="430" cy="2190" rx="4" ry="4" fill="#9898ee" fill-opacity="0.3" filter="url(#bl1_5)"/><ellipse cx="440" cy="2175" rx="4" ry="4" fill="#9898ee" fill-opacity="0.3" filter="url(#bl1_5)"/><ellipse cx="450" cy="2160" rx="4" ry="4" fill="#9898ee" fill-opacity="0.3" filter="url(#bl1_5)"/><ellipse cx="461" cy="2146" rx="4" ry="4" fill="#9898ee" fill-opacity="0.3" filter="url(#bl1_5)"/><ellipse cx="472" cy="2132" rx="4" ry="4" fill="#9898ee" fill-opacity="0.3" filter="url(#bl1_5)"/><ellipse cx="484" cy="2118" rx="4" ry="4" fill="#9898ee" fill-opacity="0.3" filter="url(#bl1_5)"/><ellipse cx="496" cy="2104" rx="4" ry="4" fill="#9898ee" fill-opacity="0.3" filter="url(#bl1_5)"/><ellipse cx="509" cy="2091" rx="4" ry="4" fill="#9898ee" fill-opacity="0.3" filter="url(#bl1_5)"/><ellipse cx="522" cy="2079" rx="4" ry="4" fill="#9898ee" fill-opacity="0.3" filter="url(#bl1_5)"/>
<g filter="url(#bl3)"><path d="M480.4 2240.2 C483.9 2233.2 493.8 2213 501.4 2198.2 C509.1 2183.3 518.2 2164.7 526.6 2150.9 C535 2137.2 547.6 2121.5 551.7 2115.7" fill="none" stroke="#ffffff" stroke-width="4.1" stroke-opacity="0.5" stroke-linecap="round" stroke-linejoin="round"/><path d="M484 2242 C487.5 2235 497.3 2214.8 505 2200 C512.7 2185.2 521.7 2166.7 530 2153 C538.3 2139.3 550.8 2123.8 555 2118" fill="none" stroke="#ffffff" stroke-width="4.1" stroke-opacity="0.6" stroke-linecap="round" stroke-linejoin="round"/><path d="M487.6 2243.8 C491.1 2236.8 500.9 2216.6 508.6 2201.8 C516.2 2187.1 525.1 2168.7 533.4 2155.1 C541.7 2141.5 554.1 2126.1 558.3 2120.3" fill="none" stroke="#ffffff" stroke-width="4.1" stroke-opacity="0.5" stroke-linecap="round" stroke-linejoin="round"/></g>
<g filter="url(#bl5)"><path d="M501.9 2088.6 C505 2084.7 512.3 2072.4 520.6 2065.1 C528.8 2057.7 541.4 2050 551.3 2044.5 C561.3 2039.1 575.3 2034.5 580.1 2032.5" fill="none" stroke="#8888ee" stroke-width="6.9" stroke-opacity="0.3" stroke-linecap="round" stroke-linejoin="round"/><path d="M505 2092.3 C508.3 2088.8 516.8 2078.4 525.3 2071.5 C533.7 2064.7 546 2057 555.7 2051.3 C565.3 2045.6 578.5 2039.6 583.1 2037.2" fill="none" stroke="#8888ee" stroke-width="6.9" stroke-opacity="0.5" stroke-linecap="round" stroke-linejoin="round"/><path d="M508 2096 C511.7 2093 521.3 2084.3 530 2078 C538.7 2071.7 550.7 2064 560 2058 C569.3 2052 581.7 2044.7 586 2042" fill="none" stroke="#8888ee" stroke-width="6.9" stroke-opacity="0.6" stroke-linecap="round" stroke-linejoin="round"/><path d="M511 2099.7 C515 2097.2 525.8 2090.3 534.7 2084.5 C543.6 2078.6 555.3 2071 564.3 2064.7 C573.4 2058.4 584.8 2049.8 588.9 2046.8" fill="none" stroke="#8888ee" stroke-width="6.9" stroke-opacity="0.5" stroke-linecap="round" stroke-linejoin="round"/><path d="M514.1 2103.4 C518.3 2101.3 530.3 2096.2 539.4 2090.9 C548.5 2085.6 559.9 2078 568.7 2071.5 C577.4 2064.9 588 2054.9 591.9 2051.5" fill="none" stroke="#8888ee" stroke-width="6.9" stroke-opacity="0.3" stroke-linecap="round" stroke-linejoin="round"/></g>
<ellipse cx="555.8" cy="2092.4" rx="3.2" ry="3.2" fill="#3c3cd8" fill-opacity="0.75" filter="url(#bl1_2)"/><ellipse cx="577" cy="2054.5" rx="3.2" ry="3.2" fill="#3c3cd8" fill-opacity="0.75" filter="url(#bl1_2)"/><ellipse cx="585.6" cy="2078" rx="3.2" ry="3.2" fill="#3c3cd8" fill-opacity="0.75" filter="url(#bl1_2)"/><ellipse cx="548" cy="2070" rx="3.2" ry="3.2" fill="#3c3cd8" fill-opacity="0.75" filter="url(#bl1_2)"/><ellipse cx="566" cy="2068" rx="3.2" ry="3.2" fill="#3c3cd8" fill-opacity="0.75" filter="url(#bl1_2)"/><ellipse cx="590" cy="2050" rx="3.2" ry="3.2" fill="#3c3cd8" fill-opacity="0.75" filter="url(#bl1_2)"/>
<ellipse cx="517" cy="2092" rx="3.5" ry="3.5" fill="#ffffff" fill-opacity="0.6" filter="url(#bl1_5)"/><ellipse cx="561" cy="2054.5" rx="3.5" ry="3.5" fill="#ffffff" fill-opacity="0.6" filter="url(#bl1_5)"/><ellipse cx="533" cy="2080" rx="3.5" ry="3.5" fill="#ffffff" fill-opacity="0.6" filter="url(#bl1_5)"/>
<ellipse cx="541" cy="2075.7" rx="3.3" ry="3.3" fill="#ffff10" fill-opacity="0.95" filter="url(#bl0_8)"/><ellipse cx="541" cy="2088" rx="3.3" ry="3.3" fill="#ffff10" fill-opacity="0.95" filter="url(#bl0_8)"/><ellipse cx="568" cy="2058" rx="3.3" ry="3.3" fill="#ffff10" fill-opacity="0.95" filter="url(#bl0_8)"/><ellipse cx="586.8" cy="2072" rx="3.3" ry="3.3" fill="#ffff10" fill-opacity="0.95" filter="url(#bl0_8)"/><ellipse cx="568.8" cy="2080.6" rx="3.3" ry="3.3" fill="#ffff10" fill-opacity="0.95" filter="url(#bl0_8)"/><ellipse cx="574.4" cy="2091" rx="3.3" ry="3.3" fill="#ffff10" fill-opacity="0.95" filter="url(#bl0_8)"/>
<ellipse cx="578.8" cy="2063" rx="4" ry="3" fill="#f0c000" fill-opacity="0.95" filter="url(#bl0_8)"/>
<ellipse cx="585.6" cy="2094.3" rx="2.8" ry="2.8" fill="#e08000" fill-opacity="0.9" filter="url(#bl0_9)"/><ellipse cx="581.9" cy="2104" rx="2.8" ry="2.8" fill="#e08000" fill-opacity="0.9" filter="url(#bl0_9)"/>
<g filter="url(#bl3)"><path d="M489.9 2231.2 C492.4 2224.2 499.1 2204 505 2188.9 C510.9 2173.8 518.1 2153.8 525.3 2140.6 C532.4 2127.3 540.7 2118.1 547.7 2109.4 C554.7 2100.7 564.1 2091.8 567.4 2088.3" fill="none" stroke="#ffff80" stroke-width="7.3" stroke-opacity="0.15" stroke-linecap="round" stroke-linejoin="round"/><path d="M497.4 2233.9 C499.9 2226.9 506.7 2206.7 512.5 2191.7 C518.3 2176.6 525.4 2156.8 532.2 2143.7 C539 2130.5 546.7 2121.4 553.3 2112.6 C559.8 2103.8 568.5 2094.4 571.6 2090.7" fill="none" stroke="#ffff80" stroke-width="7.3" stroke-opacity="0.35" stroke-linecap="round" stroke-linejoin="round"/><path d="M504.9 2236.6 C507.4 2229.6 514.3 2209.4 520 2194.4 C525.7 2179.5 532.7 2159.9 539.1 2146.8 C545.6 2133.7 552.8 2124.7 558.8 2115.7 C564.9 2106.8 572.9 2096.9 575.7 2093.2" fill="none" stroke="#ffff80" stroke-width="7.3" stroke-opacity="0.55" stroke-linecap="round" stroke-linejoin="round"/><path d="M512.5 2239.3 C515 2232.3 521.9 2212.1 527.5 2197.2 C533.1 2182.3 539.9 2162.9 546.1 2149.9 C552.2 2136.8 558.8 2127.9 564.4 2118.9 C570.1 2109.8 577.3 2099.5 579.9 2095.6" fill="none" stroke="#ffff80" stroke-width="7.3" stroke-opacity="0.65" stroke-linecap="round" stroke-linejoin="round"/><path d="M520 2242 C522.5 2235 529.5 2214.8 535 2200 C540.5 2185.2 547.2 2166 553 2153 C558.8 2140 564.8 2131.2 570 2122 C575.2 2112.8 581.7 2102 584 2098" fill="none" stroke="#ffff80" stroke-width="7.3" stroke-opacity="0.7" stroke-linecap="round" stroke-linejoin="round"/><path d="M527.5 2244.7 C530 2237.7 537.1 2217.5 542.5 2202.8 C547.9 2188 554.4 2169.1 559.9 2156.1 C565.4 2143.2 570.9 2134.4 575.6 2125.1 C580.3 2115.9 586.1 2104.5 588.1 2100.4" fill="none" stroke="#ffff80" stroke-width="7.3" stroke-opacity="0.6" stroke-linecap="round" stroke-linejoin="round"/><path d="M535.1 2247.4 C537.6 2240.4 544.7 2220.3 550 2205.6 C555.3 2190.9 561.7 2172.1 566.9 2159.2 C572.1 2146.3 576.9 2137.7 581.2 2128.3 C585.4 2118.9 590.4 2107.1 592.3 2102.8" fill="none" stroke="#ffff80" stroke-width="7.3" stroke-opacity="0.4" stroke-linecap="round" stroke-linejoin="round"/><path d="M542.6 2250.1 C545.1 2243.1 552.3 2223 557.5 2208.3 C562.7 2193.7 568.9 2175.2 573.8 2162.3 C578.7 2149.5 583 2140.9 586.7 2131.4 C590.5 2121.9 594.8 2109.6 596.4 2105.3" fill="none" stroke="#ffff80" stroke-width="7.3" stroke-opacity="0.15" stroke-linecap="round" stroke-linejoin="round"/></g>
<g filter="url(#bl4)"><path d="M546.3 2149.3 C549.4 2144.3 558.8 2127.8 564.4 2118.9 C570 2109.9 577.3 2099.5 579.9 2095.6" fill="none" stroke="#ffff40" stroke-width="6.6" stroke-opacity="0.3" stroke-linecap="round" stroke-linejoin="round"/><path d="M553 2153 C555.8 2147.8 564.8 2131.2 570 2122 C575.2 2112.8 581.7 2102 584 2098" fill="none" stroke="#ffff40" stroke-width="6.6" stroke-opacity="0.4" stroke-linecap="round" stroke-linejoin="round"/><path d="M559.7 2156.7 C562.3 2151.4 570.8 2134.5 575.6 2125.1 C580.3 2115.8 586.1 2104.5 588.1 2100.4" fill="none" stroke="#ffff40" stroke-width="6.6" stroke-opacity="0.3" stroke-linecap="round" stroke-linejoin="round"/></g>
<path d="M589 2072 L700 2047 L706 2058 L689 2076 L589 2104Z" fill="#ffffc8" fill-opacity="0.65" filter="url(#bl7)"/>
<ellipse cx="1258" cy="1805" rx="30" ry="22" fill="#e0e0f8" fill-opacity="0.6" filter="url(#bl6)"/>
<path d="M1250 1815 C1253.3 1811.3 1268 1809.5 1272 1812 C1276 1814.5 1275.7 1825.3 1274 1830 C1272.3 1834.7 1265.7 1839.3 1262 1840 C1258.3 1840.7 1254 1838.2 1252 1834 C1250 1829.8 1246.7 1818.7 1250 1815Z" fill="#a0a0e6" fill-opacity="0.85" filter="url(#bl2)"/>
<ellipse cx="1264" cy="1844" rx="10" ry="3" fill="#ffff10" fill-opacity="0.9" filter="url(#bl1_2)"/>
<ellipse cx="1262" cy="1845" rx="30" ry="6" fill="#ffff60" fill-opacity="0.45" filter="url(#bl4)"/>
<path d="M1040 1862 C1058.3 1852.8 1121.3 1851.7 1150 1850 C1178.7 1848.3 1203.7 1845.3 1212 1852 C1220.3 1858.7 1218.7 1882 1200 1890 C1181.3 1898 1126.7 1897.5 1100 1900 C1073.3 1902.5 1050 1911.3 1040 1905 C1030 1898.7 1021.7 1871.2 1040 1862Z" fill="#ffffc0" fill-opacity="0.45" filter="url(#bl8)"/>
<rect x="1000" y="1900" width="290" height="340" fill="#ffffff" fill-opacity="0.55" filter="url(#bl15)"/>
<g filter="url(#bl6)"><path d="M998.3 1786.1 C1015 1784.1 1056.8 1778.2 1098.6 1774.1 C1140.4 1769.9 1195.7 1764 1249.2 1761 C1302.7 1758 1391.2 1756.8 1419.6 1756" fill="none" stroke="#e4e4fa" stroke-width="8.2" stroke-opacity="0.3" stroke-linecap="round" stroke-linejoin="round"/><path d="M999.3 1794 C1016 1792 1057.7 1786.2 1099.4 1782 C1141.1 1777.9 1196.3 1772 1249.7 1769 C1303.1 1766 1391.5 1764.8 1419.8 1764" fill="none" stroke="#e4e4fa" stroke-width="8.2" stroke-opacity="0.45" stroke-linecap="round" stroke-linejoin="round"/><path d="M1000.2 1802 C1016.9 1800 1058.6 1794.2 1100.2 1790 C1141.8 1785.8 1196.8 1780 1250.1 1777 C1303.4 1774 1391.7 1772.8 1420.1 1772" fill="none" stroke="#e4e4fa" stroke-width="8.2" stroke-opacity="0.45" stroke-linecap="round" stroke-linejoin="round"/><path d="M1001.2 1809.9 C1017.8 1807.9 1059.4 1802.1 1101 1798 C1142.6 1793.8 1197.3 1788 1250.6 1785 C1303.8 1782 1392 1780.8 1420.3 1780" fill="none" stroke="#e4e4fa" stroke-width="8.2" stroke-opacity="0.3" stroke-linecap="round" stroke-linejoin="round"/></g>
<g filter="url(#bl6)"><path d="M1510.2 1818 C1541.8 1818.3 1622.6 1819.7 1700.1 1820 C1777.5 1820.3 1929.2 1820 1975 1820" fill="none" stroke="#dadafa" stroke-width="8.2" stroke-opacity="0.25" stroke-linecap="round" stroke-linejoin="round"/><path d="M1510.1 1826 C1541.8 1826.3 1622.6 1827.7 1700 1828 C1777.5 1828.3 1929.2 1828 1975 1828" fill="none" stroke="#dadafa" stroke-width="8.2" stroke-opacity="0.45" stroke-linecap="round" stroke-linejoin="round"/><path d="M1510 1834 C1541.7 1834.3 1622.5 1835.7 1700 1836 C1777.5 1836.3 1929.2 1836 1975 1836" fill="none" stroke="#dadafa" stroke-width="8.2" stroke-opacity="0.55" stroke-linecap="round" stroke-linejoin="round"/><path d="M1509.9 1842 C1541.6 1842.3 1622.5 1843.7 1700 1844 C1777.5 1844.3 1929.2 1844 1975 1844" fill="none" stroke="#dadafa" stroke-width="8.2" stroke-opacity="0.45" stroke-linecap="round" stroke-linejoin="round"/><path d="M1509.9 1850 C1541.5 1850.3 1622.4 1851.7 1699.9 1852 C1777.5 1852.3 1929.2 1852 1975 1852" fill="none" stroke="#dadafa" stroke-width="8.2" stroke-opacity="0.2" stroke-linecap="round" stroke-linejoin="round"/></g>
<path d="M1540 1760 C1575 1759.7 1677.5 1758.7 1750 1758 C1822.5 1757.3 1937.5 1756.3 1975 1756" fill="none" stroke="#ffffd0" stroke-width="24" stroke-opacity="0.3" stroke-linecap="round" stroke-linejoin="round" filter="url(#bl6)"/>
</g>
<rect x="117.2" y="1707.4" width="1846.3" height="527.3" fill="none" stroke="#e3e3e3" stroke-width="1.6"/>
<rect x="1899" y="2157.1" width="50.7" height="63.2" fill="#fff" stroke="#000" stroke-width="4.6"/>
<text x="1924.35" y="2204.2" font-size="43" font-weight="bold" text-anchor="middle" fill="#000">c</text>
<text x="117.2" y="2270.9" font-size="24.5" text-anchor="middle" fill="#262626">600</text>
<text x="380.96" y="2270.9" font-size="24.5" text-anchor="middle" fill="#262626">700</text>
<text x="644.71" y="2270.9" font-size="24.5" text-anchor="middle" fill="#262626">800</text>
<text x="908.47" y="2270.9" font-size="24.5" text-anchor="middle" fill="#262626">900</text>
<text x="1172.23" y="2270.9" font-size="24.5" text-anchor="middle" fill="#262626">1000</text>
<text x="1435.99" y="2270.9" font-size="24.5" text-anchor="middle" fill="#262626">1100</text>
<text x="1699.74" y="2270.9" font-size="24.5" text-anchor="middle" fill="#262626">1200</text>
<text x="1963.5" y="2270.9" font-size="24.5" text-anchor="middle" fill="#262626">1300</text>
<text x="106.7" y="1718.1" font-size="24.5" text-anchor="end" fill="#262626">0</text>
<text x="106.7" y="1849.92" font-size="24.5" text-anchor="end" fill="#262626">50</text>
<text x="106.7" y="1981.75" font-size="24.5" text-anchor="end" fill="#262626">100</text>
<text x="106.7" y="2113.57" font-size="24.5" text-anchor="end" fill="#262626">150</text>
<text x="106.7" y="2245.4" font-size="24.5" text-anchor="end" fill="#262626">200</text>
<text transform="translate(41,1963) rotate(-90)" font-size="52" text-anchor="middle" fill="#000">Z (km)</text>
<text x="1116.3" y="1697.9" font-size="27" font-weight="bold" fill="#000" textLength="202" lengthAdjust="spacing">timeMyr=7.8119</text>
<text x="308.4" y="364.5" font-size="48.5" font-weight="bold" fill="#000" textLength="243" lengthAdjust="spacingAndGlyphs">Unbending</text>
<line x1="555" y1="356.3" x2="702.2" y2="474" stroke="#000" stroke-width="2"/>
<text x="230.2" y="1148.6" font-size="48.5" font-weight="bold" fill="#000" textLength="243" lengthAdjust="spacingAndGlyphs">Unbending</text>
<line x1="477.1" y1="1140.2" x2="624.5" y2="1258.3" stroke="#000" stroke-width="2"/>
<rect x="818.6" y="910.3" width="4.0" height="1.3" fill="#707070" fill-opacity="0.75"/>
<rect x="831.6" y="910.3" width="3.4" height="1.3" fill="#707070" fill-opacity="0.75"/>
<rect x="848.6" y="910.3" width="3.4" height="1.3" fill="#707070" fill-opacity="0.75"/>
<rect x="859.9" y="910.3" width="5.1" height="1.3" fill="#707070" fill-opacity="0.75"/>
<rect x="818.6" y="151.8" width="4.0" height="1.2" fill="#b0b0b0" fill-opacity="0.5"/>
<rect x="831.6" y="151.8" width="3.4" height="1.2" fill="#b0b0b0" fill-opacity="0.5"/>
<rect x="844.5" y="151.8" width="6.0" height="1.2" fill="#b0b0b0" fill-opacity="0.5"/>
<rect x="859.9" y="151.8" width="5.1" height="1.2" fill="#b0b0b0" fill-opacity="0.5"/>
<text x="945" y="2130.6" font-size="47" font-weight="bold" fill="#000">Bending</text>
<text x="945" y="2186.4" font-size="47" font-weight="bold" fill="#000">regions</text>
<line x1="570.4" y1="2180.2" x2="930.8" y2="2132.1" stroke="#000" stroke-width="2"/>
<line x1="1078.1" y1="2074.8" x2="1208.5" y2="1829.6" stroke="#000" stroke-width="2"/>
<text x="910" y="2323.9" font-size="52" fill="#000">X (km)</text>
</svg></body></html>
